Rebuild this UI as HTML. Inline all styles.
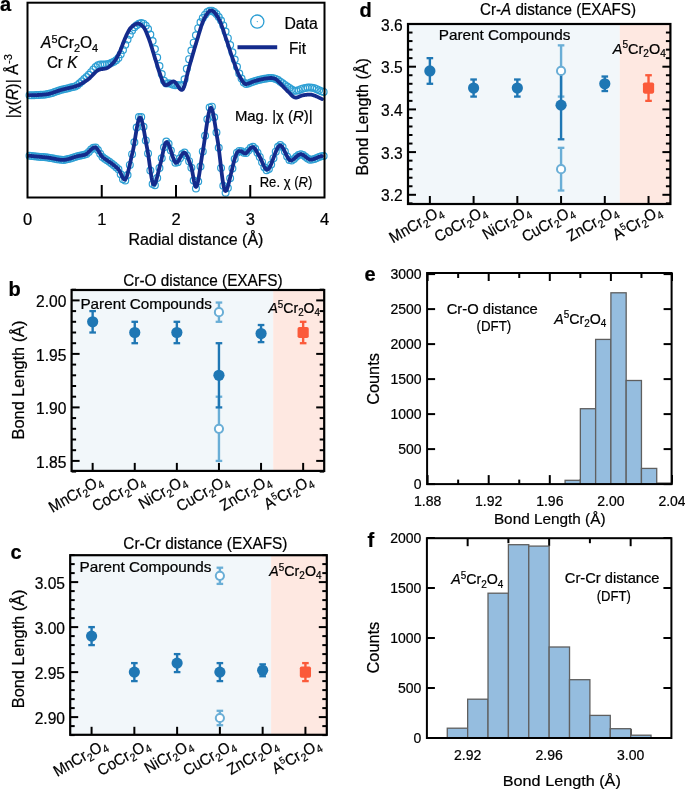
<!DOCTYPE html><html><head><meta charset="utf-8"><style>html,body{margin:0;padding:0;background:#fff;}svg{display:block;will-change:transform;}</style></head><body><svg width="685" height="790" viewBox="0 0 685 790" font-family='"Liberation Sans", sans-serif'><style>text{stroke:#000;stroke-width:0.22px;}</style>
<rect x="0" y="0" width="685" height="790" fill="#fff"/>
<g fill="none" stroke="#2d9fd4" stroke-width="1.2"><circle cx="29.50" cy="95.20" r="3.4"/><circle cx="29.50" cy="155.84" r="3.4"/><circle cx="31.78" cy="95.19" r="3.4"/><circle cx="31.78" cy="156.03" r="3.4"/><circle cx="34.06" cy="95.13" r="3.4"/><circle cx="34.06" cy="156.24" r="3.4"/><circle cx="36.34" cy="95.06" r="3.4"/><circle cx="36.34" cy="156.45" r="3.4"/><circle cx="38.62" cy="94.98" r="3.4"/><circle cx="38.62" cy="156.67" r="3.4"/><circle cx="40.90" cy="94.85" r="3.4"/><circle cx="40.90" cy="156.89" r="3.4"/><circle cx="43.18" cy="94.66" r="3.4"/><circle cx="43.18" cy="157.12" r="3.4"/><circle cx="45.46" cy="94.40" r="3.4"/><circle cx="45.46" cy="157.37" r="3.4"/><circle cx="47.74" cy="94.06" r="3.4"/><circle cx="47.74" cy="157.62" r="3.4"/><circle cx="50.02" cy="93.55" r="3.4"/><circle cx="50.02" cy="157.92" r="3.4"/><circle cx="52.30" cy="92.88" r="3.4"/><circle cx="52.30" cy="158.33" r="3.4"/><circle cx="54.58" cy="92.12" r="3.4"/><circle cx="54.58" cy="158.79" r="3.4"/><circle cx="56.86" cy="91.31" r="3.4"/><circle cx="56.86" cy="159.24" r="3.4"/><circle cx="59.14" cy="90.53" r="3.4"/><circle cx="59.14" cy="159.62" r="3.4"/><circle cx="61.42" cy="89.82" r="3.4"/><circle cx="61.42" cy="159.85" r="3.4"/><circle cx="63.70" cy="89.21" r="3.4"/><circle cx="63.70" cy="159.88" r="3.4"/><circle cx="65.98" cy="88.66" r="3.4"/><circle cx="65.98" cy="159.61" r="3.4"/><circle cx="68.26" cy="88.14" r="3.4"/><circle cx="68.26" cy="159.08" r="3.4"/><circle cx="70.54" cy="87.61" r="3.4"/><circle cx="70.54" cy="158.40" r="3.4"/><circle cx="72.82" cy="87.05" r="3.4"/><circle cx="72.82" cy="157.64" r="3.4"/><circle cx="75.10" cy="86.41" r="3.4"/><circle cx="75.10" cy="156.90" r="3.4"/><circle cx="77.38" cy="85.13" r="3.4"/><circle cx="77.38" cy="156.25" r="3.4"/><circle cx="79.66" cy="83.27" r="3.4"/><circle cx="79.66" cy="155.76" r="3.4"/><circle cx="81.94" cy="81.24" r="3.4"/><circle cx="81.94" cy="155.34" r="3.4"/><circle cx="84.22" cy="79.11" r="3.4"/><circle cx="84.22" cy="154.87" r="3.4"/><circle cx="86.50" cy="76.95" r="3.4"/><circle cx="86.50" cy="153.91" r="3.4"/><circle cx="88.78" cy="74.77" r="3.4"/><circle cx="88.78" cy="151.90" r="3.4"/><circle cx="91.06" cy="72.17" r="3.4"/><circle cx="91.06" cy="149.61" r="3.4"/><circle cx="93.34" cy="69.45" r="3.4"/><circle cx="93.34" cy="147.85" r="3.4"/><circle cx="95.62" cy="67.02" r="3.4"/><circle cx="95.62" cy="147.53" r="3.4"/><circle cx="97.90" cy="65.29" r="3.4"/><circle cx="97.90" cy="149.98" r="3.4"/><circle cx="100.18" cy="64.54" r="3.4"/><circle cx="100.18" cy="153.87" r="3.4"/><circle cx="102.46" cy="64.42" r="3.4"/><circle cx="102.46" cy="156.95" r="3.4"/><circle cx="104.74" cy="64.51" r="3.4"/><circle cx="104.74" cy="158.78" r="3.4"/><circle cx="107.02" cy="64.33" r="3.4"/><circle cx="107.02" cy="160.36" r="3.4"/><circle cx="109.30" cy="63.70" r="3.4"/><circle cx="109.30" cy="161.86" r="3.4"/><circle cx="111.58" cy="62.81" r="3.4"/><circle cx="111.58" cy="163.43" r="3.4"/><circle cx="113.86" cy="61.69" r="3.4"/><circle cx="113.86" cy="165.21" r="3.4"/><circle cx="116.14" cy="60.26" r="3.4"/><circle cx="116.14" cy="167.17" r="3.4"/><circle cx="118.42" cy="57.89" r="3.4"/><circle cx="118.42" cy="169.32" r="3.4"/><circle cx="120.70" cy="54.21" r="3.4"/><circle cx="120.70" cy="174.18" r="3.4"/><circle cx="122.98" cy="49.89" r="3.4"/><circle cx="122.98" cy="179.13" r="3.4"/><circle cx="125.26" cy="44.67" r="3.4"/><circle cx="125.26" cy="180.53" r="3.4"/><circle cx="127.54" cy="39.56" r="3.4"/><circle cx="127.54" cy="174.93" r="3.4"/><circle cx="129.82" cy="34.71" r="3.4"/><circle cx="129.82" cy="164.92" r="3.4"/><circle cx="132.10" cy="30.44" r="3.4"/><circle cx="132.10" cy="154.13" r="3.4"/><circle cx="134.38" cy="27.16" r="3.4"/><circle cx="134.38" cy="142.29" r="3.4"/><circle cx="136.66" cy="25.17" r="3.4"/><circle cx="136.66" cy="127.59" r="3.4"/><circle cx="138.94" cy="23.66" r="3.4"/><circle cx="138.94" cy="117.01" r="3.4"/><circle cx="141.22" cy="22.95" r="3.4"/><circle cx="141.22" cy="117.09" r="3.4"/><circle cx="143.50" cy="23.65" r="3.4"/><circle cx="143.50" cy="126.79" r="3.4"/><circle cx="145.78" cy="25.65" r="3.4"/><circle cx="145.78" cy="140.40" r="3.4"/><circle cx="148.06" cy="28.96" r="3.4"/><circle cx="148.06" cy="153.53" r="3.4"/><circle cx="150.34" cy="34.46" r="3.4"/><circle cx="150.34" cy="170.44" r="3.4"/><circle cx="152.62" cy="41.06" r="3.4"/><circle cx="152.62" cy="183.88" r="3.4"/><circle cx="154.90" cy="49.03" r="3.4"/><circle cx="154.90" cy="185.20" r="3.4"/><circle cx="157.18" cy="57.53" r="3.4"/><circle cx="157.18" cy="177.96" r="3.4"/><circle cx="159.46" cy="65.98" r="3.4"/><circle cx="159.46" cy="167.96" r="3.4"/><circle cx="161.74" cy="73.94" r="3.4"/><circle cx="161.74" cy="158.27" r="3.4"/><circle cx="164.02" cy="80.76" r="3.4"/><circle cx="164.02" cy="147.24" r="3.4"/><circle cx="166.30" cy="83.40" r="3.4"/><circle cx="166.30" cy="141.50" r="3.4"/><circle cx="168.58" cy="83.34" r="3.4"/><circle cx="168.58" cy="143.81" r="3.4"/><circle cx="170.86" cy="83.77" r="3.4"/><circle cx="170.86" cy="150.44" r="3.4"/><circle cx="173.14" cy="84.77" r="3.4"/><circle cx="173.14" cy="157.91" r="3.4"/><circle cx="175.42" cy="85.19" r="3.4"/><circle cx="175.42" cy="162.73" r="3.4"/><circle cx="177.70" cy="85.05" r="3.4"/><circle cx="177.70" cy="162.14" r="3.4"/><circle cx="179.98" cy="85.48" r="3.4"/><circle cx="179.98" cy="158.23" r="3.4"/><circle cx="182.26" cy="85.12" r="3.4"/><circle cx="182.26" cy="154.04" r="3.4"/><circle cx="184.54" cy="79.20" r="3.4"/><circle cx="184.54" cy="152.48" r="3.4"/><circle cx="186.82" cy="68.85" r="3.4"/><circle cx="186.82" cy="155.38" r="3.4"/><circle cx="189.10" cy="59.13" r="3.4"/><circle cx="189.10" cy="161.13" r="3.4"/><circle cx="191.38" cy="50.54" r="3.4"/><circle cx="191.38" cy="167.81" r="3.4"/><circle cx="193.66" cy="42.65" r="3.4"/><circle cx="193.66" cy="180.44" r="3.4"/><circle cx="195.94" cy="35.25" r="3.4"/><circle cx="195.94" cy="188.45" r="3.4"/><circle cx="198.22" cy="28.15" r="3.4"/><circle cx="198.22" cy="181.52" r="3.4"/><circle cx="200.50" cy="22.19" r="3.4"/><circle cx="200.50" cy="166.47" r="3.4"/><circle cx="202.78" cy="17.95" r="3.4"/><circle cx="202.78" cy="151.39" r="3.4"/><circle cx="205.06" cy="14.63" r="3.4"/><circle cx="205.06" cy="135.69" r="3.4"/><circle cx="207.34" cy="12.12" r="3.4"/><circle cx="207.34" cy="119.24" r="3.4"/><circle cx="209.62" cy="10.71" r="3.4"/><circle cx="209.62" cy="107.62" r="3.4"/><circle cx="211.90" cy="10.63" r="3.4"/><circle cx="211.90" cy="106.65" r="3.4"/><circle cx="214.18" cy="11.92" r="3.4"/><circle cx="214.18" cy="117.32" r="3.4"/><circle cx="216.46" cy="14.08" r="3.4"/><circle cx="216.46" cy="132.44" r="3.4"/><circle cx="218.74" cy="16.97" r="3.4"/><circle cx="218.74" cy="147.82" r="3.4"/><circle cx="221.02" cy="20.48" r="3.4"/><circle cx="221.02" cy="167.97" r="3.4"/><circle cx="223.30" cy="25.41" r="3.4"/><circle cx="223.30" cy="185.73" r="3.4"/><circle cx="225.58" cy="31.55" r="3.4"/><circle cx="225.58" cy="192.80" r="3.4"/><circle cx="227.86" cy="38.13" r="3.4"/><circle cx="227.86" cy="188.03" r="3.4"/><circle cx="230.14" cy="44.97" r="3.4"/><circle cx="230.14" cy="178.27" r="3.4"/><circle cx="232.42" cy="52.35" r="3.4"/><circle cx="232.42" cy="168.50" r="3.4"/><circle cx="234.70" cy="59.61" r="3.4"/><circle cx="234.70" cy="158.94" r="3.4"/><circle cx="236.98" cy="66.79" r="3.4"/><circle cx="236.98" cy="152.67" r="3.4"/><circle cx="239.26" cy="73.54" r="3.4"/><circle cx="239.26" cy="150.90" r="3.4"/><circle cx="241.54" cy="78.55" r="3.4"/><circle cx="241.54" cy="151.22" r="3.4"/><circle cx="243.82" cy="82.62" r="3.4"/><circle cx="243.82" cy="152.85" r="3.4"/><circle cx="246.10" cy="84.12" r="3.4"/><circle cx="246.10" cy="152.96" r="3.4"/><circle cx="248.38" cy="83.50" r="3.4"/><circle cx="248.38" cy="150.57" r="3.4"/><circle cx="250.66" cy="82.62" r="3.4"/><circle cx="250.66" cy="147.73" r="3.4"/><circle cx="252.94" cy="81.69" r="3.4"/><circle cx="252.94" cy="146.70" r="3.4"/><circle cx="255.22" cy="80.94" r="3.4"/><circle cx="255.22" cy="148.86" r="3.4"/><circle cx="257.50" cy="80.31" r="3.4"/><circle cx="257.50" cy="152.83" r="3.4"/><circle cx="259.78" cy="79.70" r="3.4"/><circle cx="259.78" cy="156.89" r="3.4"/><circle cx="262.06" cy="79.19" r="3.4"/><circle cx="262.06" cy="162.16" r="3.4"/><circle cx="264.34" cy="78.76" r="3.4"/><circle cx="264.34" cy="167.36" r="3.4"/><circle cx="266.62" cy="78.40" r="3.4"/><circle cx="266.62" cy="170.29" r="3.4"/><circle cx="268.90" cy="78.11" r="3.4"/><circle cx="268.90" cy="169.09" r="3.4"/><circle cx="271.18" cy="77.98" r="3.4"/><circle cx="271.18" cy="164.49" r="3.4"/><circle cx="273.46" cy="78.35" r="3.4"/><circle cx="273.46" cy="158.14" r="3.4"/><circle cx="275.74" cy="78.89" r="3.4"/><circle cx="275.74" cy="151.67" r="3.4"/><circle cx="278.02" cy="80.08" r="3.4"/><circle cx="278.02" cy="146.74" r="3.4"/><circle cx="280.30" cy="81.70" r="3.4"/><circle cx="280.30" cy="144.98" r="3.4"/><circle cx="282.58" cy="83.26" r="3.4"/><circle cx="282.58" cy="147.12" r="3.4"/><circle cx="284.86" cy="84.96" r="3.4"/><circle cx="284.86" cy="151.58" r="3.4"/><circle cx="287.14" cy="86.55" r="3.4"/><circle cx="287.14" cy="156.49" r="3.4"/><circle cx="289.42" cy="88.01" r="3.4"/><circle cx="289.42" cy="159.98" r="3.4"/><circle cx="291.70" cy="89.60" r="3.4"/><circle cx="291.70" cy="160.42" r="3.4"/><circle cx="293.98" cy="90.63" r="3.4"/><circle cx="293.98" cy="158.97" r="3.4"/><circle cx="296.26" cy="90.77" r="3.4"/><circle cx="296.26" cy="156.86" r="3.4"/><circle cx="298.54" cy="90.13" r="3.4"/><circle cx="298.54" cy="154.96" r="3.4"/><circle cx="300.82" cy="89.13" r="3.4"/><circle cx="300.82" cy="154.15" r="3.4"/><circle cx="303.10" cy="88.38" r="3.4"/><circle cx="303.10" cy="154.97" r="3.4"/><circle cx="305.38" cy="87.95" r="3.4"/><circle cx="305.38" cy="156.68" r="3.4"/><circle cx="307.66" cy="87.58" r="3.4"/><circle cx="307.66" cy="158.51" r="3.4"/><circle cx="309.94" cy="87.44" r="3.4"/><circle cx="309.94" cy="159.67" r="3.4"/><circle cx="312.22" cy="87.69" r="3.4"/><circle cx="312.22" cy="159.60" r="3.4"/><circle cx="314.50" cy="88.35" r="3.4"/><circle cx="314.50" cy="158.88" r="3.4"/><circle cx="316.78" cy="89.16" r="3.4"/><circle cx="316.78" cy="157.88" r="3.4"/><circle cx="319.06" cy="90.22" r="3.4"/><circle cx="319.06" cy="156.90" r="3.4"/><circle cx="321.34" cy="91.24" r="3.4"/><circle cx="321.34" cy="156.21" r="3.4"/><circle cx="323.62" cy="91.92" r="3.4"/><circle cx="323.62" cy="155.96" r="3.4"/></g>
<path d="M29.00,95.20 L29.50,95.20 L30.00,95.20 L30.50,95.20 L31.00,95.20 L31.50,95.19 L32.00,95.18 L32.50,95.17 L33.00,95.16 L33.50,95.15 L34.00,95.13 L34.50,95.12 L35.00,95.10 L35.50,95.09 L36.00,95.07 L36.50,95.05 L37.00,95.03 L37.50,95.02 L38.00,95.00 L38.50,94.98 L39.00,94.96 L39.50,94.94 L40.00,94.91 L40.50,94.88 L41.00,94.84 L41.50,94.81 L42.00,94.77 L42.50,94.72 L43.00,94.68 L43.50,94.63 L44.00,94.57 L44.50,94.52 L45.00,94.46 L45.50,94.39 L46.00,94.33 L46.50,94.26 L47.00,94.18 L47.50,94.10 L48.00,94.01 L48.50,93.91 L49.00,93.80 L49.50,93.68 L50.00,93.55 L50.50,93.42 L51.00,93.27 L51.50,93.13 L52.00,92.97 L52.50,92.82 L53.00,92.65 L53.50,92.49 L54.00,92.32 L54.50,92.14 L55.00,91.97 L55.50,91.79 L56.00,91.62 L56.50,91.44 L57.00,91.27 L57.50,91.09 L58.00,90.92 L58.50,90.75 L59.00,90.58 L59.50,90.41 L60.00,90.25 L60.50,90.10 L61.00,89.95 L61.50,89.80 L62.00,89.66 L62.50,89.52 L63.00,89.39 L63.50,89.26 L64.00,89.14 L64.50,89.02 L65.00,88.89 L65.50,88.78 L66.00,88.66 L66.50,88.54 L67.00,88.43 L67.50,88.32 L68.00,88.20 L68.50,88.09 L69.00,87.97 L69.50,87.86 L70.00,87.74 L70.50,87.62 L71.00,87.50 L71.50,87.38 L72.00,87.26 L72.50,87.13 L73.00,87.00 L73.50,86.87 L74.00,86.73 L74.50,86.59 L75.00,86.44 L75.50,86.29 L76.00,86.13 L76.50,85.97 L77.00,85.79 L77.50,85.60 L78.00,85.39 L78.50,85.17 L79.00,84.95 L79.50,84.71 L80.00,84.46 L80.50,84.19 L81.00,83.92 L81.50,83.65 L82.00,83.36 L82.50,83.06 L83.00,82.76 L83.50,82.45 L84.00,82.14 L84.50,81.82 L85.00,81.49 L85.50,81.16 L86.00,80.83 L86.50,80.49 L87.00,80.15 L87.50,79.81 L88.00,79.46 L88.50,79.08 L89.00,78.67 L89.50,78.22 L90.00,77.75 L90.50,77.26 L91.00,76.75 L91.50,76.23 L92.00,75.69 L92.50,75.16 L93.00,74.62 L93.50,74.09 L94.00,73.57 L94.50,73.06 L95.00,72.57 L95.50,72.10 L96.00,71.66 L96.50,71.24 L97.00,70.86 L97.50,70.52 L98.00,70.23 L98.50,69.98 L99.00,69.76 L99.50,69.59 L100.00,69.44 L100.50,69.32 L101.00,69.22 L101.50,69.14 L102.00,69.07 L102.50,69.01 L103.00,68.95 L103.50,68.89 L104.00,68.82 L104.50,68.74 L105.00,68.64 L105.50,68.52 L106.00,68.38 L106.50,68.20 L107.00,67.99 L107.50,67.75 L108.00,67.46 L108.50,67.14 L109.00,66.78 L109.50,66.39 L110.00,65.98 L110.50,65.54 L111.00,65.07 L111.50,64.59 L112.00,64.09 L112.50,63.57 L113.00,63.04 L113.50,62.50 L114.00,61.92 L114.50,61.28 L115.00,60.58 L115.50,59.82 L116.00,59.02 L116.50,58.17 L117.00,57.27 L117.50,56.35 L118.00,55.39 L118.50,54.41 L119.00,53.41 L119.50,52.37 L120.00,51.25 L120.50,50.05 L121.00,48.79 L121.50,47.49 L122.00,46.17 L122.50,44.84 L123.00,43.52 L123.50,42.23 L124.00,40.98 L124.50,39.78 L125.00,38.57 L125.50,37.37 L126.00,36.19 L126.50,35.06 L127.00,33.99 L127.50,33.00 L128.00,32.06 L128.50,31.13 L129.00,30.24 L129.50,29.41 L130.00,28.67 L130.50,28.02 L131.00,27.50 L131.50,27.06 L132.00,26.62 L132.50,26.20 L133.00,25.80 L133.50,25.42 L134.00,25.07 L134.50,24.74 L135.00,24.44 L135.50,24.18 L136.00,23.95 L136.50,23.76 L137.00,23.62 L137.50,23.52 L138.00,23.49 L138.50,23.53 L139.00,23.65 L139.50,23.85 L140.00,24.10 L140.50,24.42 L141.00,24.77 L141.50,25.17 L142.00,25.59 L142.50,26.04 L143.00,26.50 L143.50,27.04 L144.00,27.72 L144.50,28.53 L145.00,29.46 L145.50,30.48 L146.00,31.58 L146.50,32.76 L147.00,33.98 L147.50,35.24 L148.00,36.52 L148.50,37.80 L149.00,39.12 L149.50,40.52 L150.00,41.98 L150.50,43.50 L151.00,45.06 L151.50,46.67 L152.00,48.30 L152.50,49.96 L153.00,51.62 L153.50,53.29 L154.00,54.95 L154.50,56.60 L155.00,58.22 L155.50,59.82 L156.00,61.43 L156.50,63.07 L157.00,64.73 L157.50,66.37 L158.00,67.99 L158.50,69.57 L159.00,71.08 L159.50,72.50 L160.00,73.91 L160.50,75.36 L161.00,76.83 L161.50,78.28 L162.00,79.67 L162.50,80.97 L163.00,82.15 L163.50,83.18 L164.00,84.02 L164.50,84.64 L165.00,85.00 L165.50,85.16 L166.00,85.21 L166.50,85.16 L167.00,85.02 L167.50,84.81 L168.00,84.54 L168.50,84.22 L169.00,83.87 L169.50,83.50 L170.00,83.12 L170.50,82.76 L171.00,82.41 L171.50,82.10 L172.00,81.83 L172.50,81.63 L173.00,81.51 L173.50,81.47 L174.00,81.55 L174.50,81.78 L175.00,82.16 L175.50,82.66 L176.00,83.27 L176.50,83.96 L177.00,84.70 L177.50,85.47 L178.00,86.25 L178.50,87.01 L179.00,87.73 L179.50,88.39 L180.00,88.96 L180.50,89.41 L181.00,89.73 L181.50,89.89 L182.00,89.87 L182.50,89.61 L183.00,88.99 L183.50,88.05 L184.00,86.82 L184.50,85.35 L185.00,83.66 L185.50,81.81 L186.00,79.83 L186.50,77.76 L187.00,75.64 L187.50,73.51 L188.00,71.41 L188.50,69.39 L189.00,67.47 L189.50,65.70 L190.00,64.01 L190.50,62.31 L191.00,60.59 L191.50,58.87 L192.00,57.14 L192.50,55.41 L193.00,53.68 L193.50,51.96 L194.00,50.24 L194.50,48.53 L195.00,46.84 L195.50,45.16 L196.00,43.50 L196.50,41.87 L197.00,40.25 L197.50,38.61 L198.00,36.95 L198.50,35.26 L199.00,33.58 L199.50,31.90 L200.00,30.24 L200.50,28.62 L201.00,27.04 L201.50,25.52 L202.00,24.06 L202.50,22.69 L203.00,21.42 L203.50,20.25 L204.00,19.20 L204.50,18.24 L205.00,17.30 L205.50,16.39 L206.00,15.52 L206.50,14.69 L207.00,13.92 L207.50,13.20 L208.00,12.55 L208.50,11.98 L209.00,11.48 L209.50,11.08 L210.00,10.78 L210.50,10.58 L211.00,10.50 L211.50,10.53 L212.00,10.65 L212.50,10.86 L213.00,11.15 L213.50,11.52 L214.00,11.97 L214.50,12.48 L215.00,13.05 L215.50,13.68 L216.00,14.36 L216.50,15.10 L217.00,15.87 L217.50,16.68 L218.00,17.53 L218.50,18.40 L219.00,19.30 L219.50,20.27 L220.00,21.34 L220.50,22.52 L221.00,23.78 L221.50,25.12 L222.00,26.52 L222.50,27.96 L223.00,29.45 L223.50,30.96 L224.00,32.49 L224.50,34.02 L225.00,35.54 L225.50,37.04 L226.00,38.50 L226.50,39.96 L227.00,41.45 L227.50,42.97 L228.00,44.50 L228.50,46.05 L229.00,47.60 L229.50,49.16 L230.00,50.71 L230.50,52.25 L231.00,53.78 L231.50,55.28 L232.00,56.76 L232.50,58.20 L233.00,59.60 L233.50,60.99 L234.00,62.40 L234.50,63.81 L235.00,65.22 L235.50,66.62 L236.00,67.99 L236.50,69.34 L237.00,70.64 L237.50,71.90 L238.00,73.10 L238.50,74.22 L239.00,75.27 L239.50,76.23 L240.00,77.10 L240.50,77.92 L241.00,78.76 L241.50,79.59 L242.00,80.39 L242.50,81.16 L243.00,81.87 L243.50,82.51 L244.00,83.07 L244.50,83.53 L245.00,83.87 L245.50,84.07 L246.00,84.12 L246.50,84.04 L247.00,83.92 L247.50,83.78 L248.00,83.63 L248.50,83.46 L249.00,83.28 L249.50,83.09 L250.00,82.89 L250.50,82.68 L251.00,82.48 L251.50,82.27 L252.00,82.06 L252.50,81.86 L253.00,81.67 L253.50,81.48 L254.00,81.30 L254.50,81.14 L255.00,81.00 L255.50,80.86 L256.00,80.73 L256.50,80.59 L257.00,80.45 L257.50,80.31 L258.00,80.17 L258.50,80.04 L259.00,79.90 L259.50,79.77 L260.00,79.65 L260.50,79.53 L261.00,79.41 L261.50,79.30 L262.00,79.20 L262.50,79.10 L263.00,79.01 L263.50,78.91 L264.00,78.82 L264.50,78.74 L265.00,78.65 L265.50,78.57 L266.00,78.49 L266.50,78.42 L267.00,78.34 L267.50,78.28 L268.00,78.21 L268.50,78.15 L269.00,78.10 L269.50,78.05 L270.00,78.00 L270.50,77.97 L271.00,77.98 L271.50,78.01 L272.00,78.06 L272.50,78.14 L273.00,78.25 L273.50,78.36 L274.00,78.50 L274.50,78.64 L275.00,78.80 L275.50,79.01 L276.00,79.30 L276.50,79.67 L277.00,80.10 L277.50,80.57 L278.00,81.08 L278.50,81.61 L279.00,82.15 L279.50,82.69 L280.00,83.20 L280.50,83.69 L281.00,84.19 L281.50,84.70 L282.00,85.22 L282.50,85.76 L283.00,86.29 L283.50,86.84 L284.00,87.38 L284.50,87.92 L285.00,88.46 L285.50,89.00 L286.00,89.52 L286.50,90.04 L287.00,90.54 L287.50,91.03 L288.00,91.50 L288.50,91.98 L289.00,92.48 L289.50,93.00 L290.00,93.53 L290.50,94.05 L291.00,94.58 L291.50,95.08 L292.00,95.56 L292.50,96.01 L293.00,96.43 L293.50,96.79 L294.00,97.09 L294.50,97.33 L295.00,97.50 L295.50,97.59 L296.00,97.59 L296.50,97.54 L297.00,97.44 L297.50,97.30 L298.00,97.14 L298.50,96.95 L299.00,96.74 L299.50,96.53 L300.00,96.31 L300.50,96.09 L301.00,95.89 L301.50,95.70 L302.00,95.53 L302.50,95.40 L303.00,95.30 L303.50,95.22 L304.00,95.14 L304.50,95.06 L305.00,94.98 L305.50,94.91 L306.00,94.83 L306.50,94.77 L307.00,94.71 L307.50,94.65 L308.00,94.61 L308.50,94.58 L309.00,94.56 L309.50,94.56 L310.00,94.57 L310.50,94.60 L311.00,94.65 L311.50,94.73 L312.00,94.84 L312.50,94.97 L313.00,95.12 L313.50,95.28 L314.00,95.45 L314.50,95.64 L315.00,95.82 L315.50,96.01 L316.00,96.20 L316.50,96.40 L317.00,96.62 L317.50,96.86 L318.00,97.11 L318.50,97.37 L319.00,97.63 L319.50,97.89 L320.00,98.14 L320.50,98.38 L321.00,98.61 L321.50,98.82 L322.00,99.00" fill="none" stroke="#142b8c" stroke-width="3.8" stroke-linejoin="round" stroke-linecap="round"/>
<path d="M29.00,155.80 L29.50,155.84 L30.00,155.88 L30.50,155.92 L31.00,155.97 L31.50,156.01 L32.00,156.05 L32.50,156.10 L33.00,156.14 L33.50,156.19 L34.00,156.23 L34.50,156.28 L35.00,156.32 L35.50,156.37 L36.00,156.42 L36.50,156.47 L37.00,156.51 L37.50,156.56 L38.00,156.61 L38.50,156.66 L39.00,156.70 L39.50,156.75 L40.00,156.80 L40.50,156.85 L41.00,156.90 L41.50,156.95 L42.00,157.00 L42.50,157.05 L43.00,157.10 L43.50,157.16 L44.00,157.21 L44.50,157.26 L45.00,157.32 L45.50,157.37 L46.00,157.43 L46.50,157.48 L47.00,157.54 L47.50,157.60 L48.00,157.65 L48.50,157.71 L49.00,157.77 L49.50,157.84 L50.00,157.92 L50.50,158.00 L51.00,158.09 L51.50,158.18 L52.00,158.28 L52.50,158.37 L53.00,158.47 L53.50,158.57 L54.00,158.68 L54.50,158.78 L55.00,158.88 L55.50,158.98 L56.00,159.08 L56.50,159.17 L57.00,159.27 L57.50,159.36 L58.00,159.44 L58.50,159.52 L59.00,159.60 L59.50,159.66 L60.00,159.72 L60.50,159.78 L61.00,159.82 L61.50,159.86 L62.00,159.88 L62.50,159.90 L63.00,159.90 L63.50,159.89 L64.00,159.86 L64.50,159.82 L65.00,159.76 L65.50,159.69 L66.00,159.60 L66.50,159.51 L67.00,159.40 L67.50,159.28 L68.00,159.15 L68.50,159.02 L69.00,158.88 L69.50,158.73 L70.00,158.57 L70.50,158.41 L71.00,158.25 L71.50,158.08 L72.00,157.92 L72.50,157.75 L73.00,157.58 L73.50,157.41 L74.00,157.25 L74.50,157.09 L75.00,156.93 L75.50,156.77 L76.00,156.62 L76.50,156.48 L77.00,156.35 L77.50,156.22 L78.00,156.11 L78.50,156.00 L79.00,155.89 L79.50,155.80 L80.00,155.70 L80.50,155.61 L81.00,155.52 L81.50,155.42 L82.00,155.33 L82.50,155.24 L83.00,155.14 L83.50,155.03 L84.00,154.92 L84.50,154.80 L85.00,154.67 L85.50,154.49 L86.00,154.23 L86.50,153.91 L87.00,153.54 L87.50,153.12 L88.00,152.66 L88.50,152.18 L89.00,151.68 L89.50,151.17 L90.00,150.66 L90.50,150.15 L91.00,149.66 L91.50,149.20 L92.00,148.77 L92.50,148.38 L93.00,148.05 L93.50,147.77 L94.00,147.57 L94.50,147.44 L95.00,147.40 L95.50,147.48 L96.00,147.74 L96.50,148.17 L97.00,148.72 L97.50,149.39 L98.00,150.14 L98.50,150.96 L99.00,151.82 L99.50,152.69 L100.00,153.56 L100.50,154.40 L101.00,155.18 L101.50,155.89 L102.00,156.50 L102.50,156.99 L103.00,157.42 L103.50,157.83 L104.00,158.23 L104.50,158.61 L105.00,158.97 L105.50,159.33 L106.00,159.68 L106.50,160.02 L107.00,160.35 L107.50,160.68 L108.00,161.01 L108.50,161.33 L109.00,161.66 L109.50,161.99 L110.00,162.32 L110.50,162.66 L111.00,163.01 L111.50,163.37 L112.00,163.74 L112.50,164.12 L113.00,164.52 L113.50,164.92 L114.00,165.33 L114.50,165.74 L115.00,166.17 L115.50,166.60 L116.00,167.04 L116.50,167.49 L117.00,167.95 L117.50,168.42 L118.00,168.91 L118.50,169.40 L119.00,170.05 L119.50,170.87 L120.00,171.83 L120.50,172.88 L121.00,173.98 L121.50,175.09 L122.00,176.17 L122.50,177.17 L123.00,178.06 L123.50,178.79 L124.00,179.32 L124.50,179.60 L125.00,179.54 L125.50,179.10 L126.00,178.30 L126.50,177.19 L127.00,175.80 L127.50,174.17 L128.00,172.33 L128.50,170.33 L129.00,168.19 L129.50,165.96 L130.00,163.67 L130.50,161.35 L131.00,159.05 L131.50,156.80 L132.00,154.64 L132.50,152.60 L133.00,150.44 L133.50,147.94 L134.00,145.18 L134.50,142.22 L135.00,139.13 L135.50,136.00 L136.00,132.89 L136.50,129.87 L137.00,127.02 L137.50,124.41 L138.00,122.11 L138.50,120.19 L139.00,118.72 L139.50,117.78 L140.00,117.44 L140.50,117.68 L141.00,118.45 L141.50,119.69 L142.00,121.34 L142.50,123.34 L143.00,125.64 L143.50,128.18 L144.00,130.89 L144.50,133.73 L145.00,136.63 L145.50,139.54 L146.00,142.39 L146.50,145.14 L147.00,147.71 L147.50,150.29 L148.00,153.27 L148.50,156.57 L149.00,160.07 L149.50,163.69 L150.00,167.33 L150.50,170.87 L151.00,174.22 L151.50,177.28 L152.00,179.94 L152.50,182.11 L153.00,183.69 L153.50,184.57 L154.00,184.72 L154.50,184.38 L155.00,183.63 L155.50,182.53 L156.00,181.13 L156.50,179.47 L157.00,177.62 L157.50,175.62 L158.00,173.53 L158.50,171.40 L159.00,169.28 L159.50,167.23 L160.00,165.29 L160.50,163.47 L161.00,161.48 L161.50,159.27 L162.00,156.93 L162.50,154.54 L163.00,152.16 L163.50,149.87 L164.00,147.74 L164.50,145.86 L165.00,144.29 L165.50,143.10 L166.00,142.38 L166.50,142.13 L167.00,142.23 L167.50,142.63 L168.00,143.31 L168.50,144.22 L169.00,145.34 L169.50,146.63 L170.00,148.05 L170.50,149.57 L171.00,151.15 L171.50,152.76 L172.00,154.37 L172.50,155.93 L173.00,157.42 L173.50,158.79 L174.00,160.02 L174.50,161.07 L175.00,161.90 L175.50,162.48 L176.00,162.78 L176.50,162.76 L177.00,162.51 L177.50,162.07 L178.00,161.47 L178.50,160.74 L179.00,159.92 L179.50,159.02 L180.00,158.09 L180.50,157.14 L181.00,156.21 L181.50,155.32 L182.00,154.51 L182.50,153.81 L183.00,153.24 L183.50,152.84 L184.00,152.62 L184.50,152.63 L185.00,152.88 L185.50,153.33 L186.00,153.98 L186.50,154.80 L187.00,155.77 L187.50,156.85 L188.00,158.04 L188.50,159.30 L189.00,160.62 L189.50,161.97 L190.00,163.32 L190.50,164.66 L191.00,165.97 L191.50,167.73 L192.00,170.02 L192.50,172.67 L193.00,175.52 L193.50,178.38 L194.00,181.09 L194.50,183.47 L195.00,185.34 L195.50,186.55 L196.00,186.90 L196.50,186.42 L197.00,185.29 L197.50,183.59 L198.00,181.40 L198.50,178.80 L199.00,175.88 L199.50,172.71 L200.00,169.38 L200.50,165.97 L201.00,162.56 L201.50,159.24 L202.00,156.07 L202.50,153.15 L203.00,150.34 L203.50,147.28 L204.00,144.02 L204.50,140.60 L205.00,137.08 L205.50,133.52 L206.00,129.98 L206.50,126.51 L207.00,123.17 L207.50,120.01 L208.00,117.08 L208.50,114.45 L209.00,112.18 L209.50,110.30 L210.00,108.89 L210.50,108.00 L211.00,107.76 L211.50,108.20 L212.00,109.26 L212.50,110.86 L213.00,112.91 L213.50,115.36 L214.00,118.11 L214.50,121.09 L215.00,124.23 L215.50,127.44 L216.00,130.66 L216.50,133.81 L217.00,136.81 L217.50,139.64 L218.00,142.81 L218.50,146.38 L219.00,150.26 L219.50,154.37 L220.00,158.62 L220.50,162.94 L221.00,167.23 L221.50,171.42 L222.00,175.41 L222.50,179.14 L223.00,182.50 L223.50,185.42 L224.00,187.82 L224.50,189.61 L225.00,190.71 L225.50,191.05 L226.00,190.84 L226.50,190.16 L227.00,189.09 L227.50,187.69 L228.00,186.02 L228.50,184.13 L229.00,182.09 L229.50,179.96 L230.00,177.81 L230.50,175.68 L231.00,173.65 L231.50,171.74 L232.00,169.70 L232.50,167.55 L233.00,165.37 L233.50,163.23 L234.00,161.23 L234.50,159.44 L235.00,157.91 L235.50,156.46 L236.00,155.08 L236.50,153.83 L237.00,152.79 L237.50,152.02 L238.00,151.60 L238.50,151.39 L239.00,151.22 L239.50,151.10 L240.00,151.05 L240.50,151.08 L241.00,151.20 L241.50,151.43 L242.00,151.73 L242.50,152.08 L243.00,152.45 L243.50,152.80 L244.00,153.10 L244.50,153.32 L245.00,153.42 L245.50,153.37 L246.00,153.16 L246.50,152.83 L247.00,152.39 L247.50,151.87 L248.00,151.29 L248.50,150.68 L249.00,150.04 L249.50,149.42 L250.00,148.83 L250.50,148.29 L251.00,147.82 L251.50,147.45 L252.00,147.20 L252.50,147.10 L253.00,147.16 L253.50,147.39 L254.00,147.76 L254.50,148.27 L255.00,148.90 L255.50,149.61 L256.00,150.39 L256.50,151.23 L257.00,152.10 L257.50,152.98 L258.00,153.85 L258.50,154.70 L259.00,155.50 L259.50,156.33 L260.00,157.28 L260.50,158.31 L261.00,159.41 L261.50,160.56 L262.00,161.72 L262.50,162.89 L263.00,164.03 L263.50,165.13 L264.00,166.17 L264.50,167.11 L265.00,167.94 L265.50,168.64 L266.00,169.19 L266.50,169.55 L267.00,169.71 L267.50,169.65 L268.00,169.39 L268.50,168.94 L269.00,168.33 L269.50,167.56 L270.00,166.66 L270.50,165.64 L271.00,164.51 L271.50,163.30 L272.00,162.02 L272.50,160.69 L273.00,159.32 L273.50,157.92 L274.00,156.53 L274.50,155.15 L275.00,153.79 L275.50,152.48 L276.00,151.24 L276.50,150.07 L277.00,149.00 L277.50,148.04 L278.00,147.21 L278.50,146.52 L279.00,145.99 L279.50,145.65 L280.00,145.49 L280.50,145.55 L281.00,145.79 L281.50,146.19 L282.00,146.75 L282.50,147.43 L283.00,148.22 L283.50,149.10 L284.00,150.05 L284.50,151.05 L285.00,152.09 L285.50,153.14 L286.00,154.19 L286.50,155.22 L287.00,156.20 L287.50,157.13 L288.00,157.98 L288.50,158.73 L289.00,159.36 L289.50,159.86 L290.00,160.21 L290.50,160.39 L291.00,160.38 L291.50,160.27 L292.00,160.09 L292.50,159.85 L293.00,159.54 L293.50,159.20 L294.00,158.81 L294.50,158.39 L295.00,157.95 L295.50,157.50 L296.00,157.05 L296.50,156.60 L297.00,156.17 L297.50,155.76 L298.00,155.38 L298.50,155.04 L299.00,154.74 L299.50,154.51 L300.00,154.34 L300.50,154.25 L301.00,154.24 L301.50,154.32 L302.00,154.48 L302.50,154.69 L303.00,154.96 L303.50,155.26 L304.00,155.60 L304.50,155.97 L305.00,156.35 L305.50,156.74 L306.00,157.14 L306.50,157.53 L307.00,157.92 L307.50,158.28 L308.00,158.61 L308.50,158.91 L309.00,159.16 L309.50,159.37 L310.00,159.51 L310.50,159.59 L311.00,159.60 L311.50,159.55 L312.00,159.47 L312.50,159.37 L313.00,159.24 L313.50,159.09 L314.00,158.92 L314.50,158.74 L315.00,158.54 L315.50,158.34 L316.00,158.13 L316.50,157.91 L317.00,157.70 L317.50,157.48 L318.00,157.27 L318.50,157.07 L319.00,156.88 L319.50,156.70 L320.00,156.53 L320.50,156.39 L321.00,156.27 L321.50,156.17 L322.00,156.10" fill="none" stroke="#142b8c" stroke-width="3.8" stroke-linejoin="round" stroke-linecap="round"/>
<rect x="27.5" y="2.7" width="297.0" height="194.8" fill="none" stroke="#000" stroke-width="2"/>
<text x="27.50" y="225.00" font-size="16.5" text-anchor="middle">0</text>
<line x1="101.75" y1="197.50" x2="101.75" y2="185.00" stroke="#000" stroke-width="2" stroke-linecap="butt"/>
<text x="101.75" y="225.00" font-size="16.5" text-anchor="middle">1</text>
<line x1="176.00" y1="197.50" x2="176.00" y2="185.00" stroke="#000" stroke-width="2" stroke-linecap="butt"/>
<text x="176.00" y="225.00" font-size="16.5" text-anchor="middle">2</text>
<line x1="250.25" y1="197.50" x2="250.25" y2="185.00" stroke="#000" stroke-width="2" stroke-linecap="butt"/>
<text x="250.25" y="225.00" font-size="16.5" text-anchor="middle">3</text>
<text x="324.50" y="225.00" font-size="16.5" text-anchor="middle">4</text>
<text x="128.40" y="244.60" font-size="16" textLength="135.00" lengthAdjust="spacingAndGlyphs">Radial distance (Å)</text>
<text x="0.00" y="11.20" font-size="20" font-weight="bold">a</text>
<text transform="translate(17.8,86.2) rotate(-90)" font-size="16" text-anchor="middle" textLength="64" lengthAdjust="spacingAndGlyphs">|χ(<tspan font-style="italic">R</tspan>)| Å<tspan font-size="11" dy="-6">-3</tspan></text>
<text x="41.10" y="48.40" font-size="16" textLength="57.00" lengthAdjust="spacingAndGlyphs"><tspan font-style="italic">A</tspan><tspan font-size="11.20" dy="-5.76">5</tspan><tspan dy="5.76">Cr</tspan><tspan font-size="11.20" dy="3.52">2</tspan><tspan dy="-3.52">O</tspan><tspan font-size="11.20" dy="3.52">4</tspan></text>
<text x="46.90" y="67.60" font-size="16" textLength="30.40" lengthAdjust="spacingAndGlyphs">Cr <tspan font-style="italic">K</tspan></text>
<circle cx="257.3" cy="21.6" r="6.6" fill="none" stroke="#2d9fd4" stroke-width="1.3"/><circle cx="257.3" cy="21.6" r="0.6" fill="#2d9fd4"/>
<text x="284.40" y="28.90" font-size="16" textLength="33.30" lengthAdjust="spacingAndGlyphs">Data</text>
<line x1="237.50" y1="47.30" x2="277.20" y2="47.30" stroke="#142b8c" stroke-width="4" stroke-linecap="butt"/>
<text x="289.00" y="54.00" font-size="16" textLength="17.00" lengthAdjust="spacingAndGlyphs">Fit</text>
<text x="234.90" y="121.20" font-size="14.5" textLength="77.70" lengthAdjust="spacingAndGlyphs">Mag. |χ (<tspan font-style="italic">R</tspan>)|</text>
<text x="259.70" y="186.90" font-size="14.5" textLength="52.60" lengthAdjust="spacingAndGlyphs">Re. χ (<tspan font-style="italic">R</tspan>)</text>
<rect x="408.00" y="24.00" width="211.80" height="180.00" fill="#f2f7fa" stroke="none" stroke-width="0" rx="0"/>
<rect x="619.80" y="24.00" width="50.60" height="180.00" fill="#fee8e1" stroke="none" stroke-width="0" rx="0"/>
<line x1="408.00" y1="194.80" x2="416.00" y2="194.80" stroke="#000" stroke-width="2" stroke-linecap="butt"/>
<line x1="670.40" y1="194.80" x2="662.40" y2="194.80" stroke="#000" stroke-width="2" stroke-linecap="butt"/>
<text x="402.80" y="201.40" font-size="15.6" text-anchor="end">3.2</text>
<line x1="408.00" y1="152.10" x2="416.00" y2="152.10" stroke="#000" stroke-width="2" stroke-linecap="butt"/>
<line x1="670.40" y1="152.10" x2="662.40" y2="152.10" stroke="#000" stroke-width="2" stroke-linecap="butt"/>
<text x="402.80" y="158.70" font-size="15.6" text-anchor="end">3.3</text>
<line x1="408.00" y1="109.40" x2="416.00" y2="109.40" stroke="#000" stroke-width="2" stroke-linecap="butt"/>
<line x1="670.40" y1="109.40" x2="662.40" y2="109.40" stroke="#000" stroke-width="2" stroke-linecap="butt"/>
<text x="402.80" y="116.00" font-size="15.6" text-anchor="end">3.4</text>
<line x1="408.00" y1="66.70" x2="416.00" y2="66.70" stroke="#000" stroke-width="2" stroke-linecap="butt"/>
<line x1="670.40" y1="66.70" x2="662.40" y2="66.70" stroke="#000" stroke-width="2" stroke-linecap="butt"/>
<text x="402.80" y="73.30" font-size="15.6" text-anchor="end">3.5</text>
<line x1="408.00" y1="24.00" x2="416.00" y2="24.00" stroke="#000" stroke-width="2" stroke-linecap="butt"/>
<line x1="670.40" y1="24.00" x2="662.40" y2="24.00" stroke="#000" stroke-width="2" stroke-linecap="butt"/>
<text x="402.80" y="30.60" font-size="15.6" text-anchor="end">3.6</text>
<line x1="408.00" y1="203.34" x2="412.50" y2="203.34" stroke="#000" stroke-width="2" stroke-linecap="butt"/>
<line x1="670.40" y1="203.34" x2="665.90" y2="203.34" stroke="#000" stroke-width="2" stroke-linecap="butt"/>
<line x1="408.00" y1="186.26" x2="412.50" y2="186.26" stroke="#000" stroke-width="2" stroke-linecap="butt"/>
<line x1="670.40" y1="186.26" x2="665.90" y2="186.26" stroke="#000" stroke-width="2" stroke-linecap="butt"/>
<line x1="408.00" y1="177.72" x2="412.50" y2="177.72" stroke="#000" stroke-width="2" stroke-linecap="butt"/>
<line x1="670.40" y1="177.72" x2="665.90" y2="177.72" stroke="#000" stroke-width="2" stroke-linecap="butt"/>
<line x1="408.00" y1="169.18" x2="412.50" y2="169.18" stroke="#000" stroke-width="2" stroke-linecap="butt"/>
<line x1="670.40" y1="169.18" x2="665.90" y2="169.18" stroke="#000" stroke-width="2" stroke-linecap="butt"/>
<line x1="408.00" y1="160.64" x2="412.50" y2="160.64" stroke="#000" stroke-width="2" stroke-linecap="butt"/>
<line x1="670.40" y1="160.64" x2="665.90" y2="160.64" stroke="#000" stroke-width="2" stroke-linecap="butt"/>
<line x1="408.00" y1="143.56" x2="412.50" y2="143.56" stroke="#000" stroke-width="2" stroke-linecap="butt"/>
<line x1="670.40" y1="143.56" x2="665.90" y2="143.56" stroke="#000" stroke-width="2" stroke-linecap="butt"/>
<line x1="408.00" y1="135.02" x2="412.50" y2="135.02" stroke="#000" stroke-width="2" stroke-linecap="butt"/>
<line x1="670.40" y1="135.02" x2="665.90" y2="135.02" stroke="#000" stroke-width="2" stroke-linecap="butt"/>
<line x1="408.00" y1="126.48" x2="412.50" y2="126.48" stroke="#000" stroke-width="2" stroke-linecap="butt"/>
<line x1="670.40" y1="126.48" x2="665.90" y2="126.48" stroke="#000" stroke-width="2" stroke-linecap="butt"/>
<line x1="408.00" y1="117.94" x2="412.50" y2="117.94" stroke="#000" stroke-width="2" stroke-linecap="butt"/>
<line x1="670.40" y1="117.94" x2="665.90" y2="117.94" stroke="#000" stroke-width="2" stroke-linecap="butt"/>
<line x1="408.00" y1="100.86" x2="412.50" y2="100.86" stroke="#000" stroke-width="2" stroke-linecap="butt"/>
<line x1="670.40" y1="100.86" x2="665.90" y2="100.86" stroke="#000" stroke-width="2" stroke-linecap="butt"/>
<line x1="408.00" y1="92.32" x2="412.50" y2="92.32" stroke="#000" stroke-width="2" stroke-linecap="butt"/>
<line x1="670.40" y1="92.32" x2="665.90" y2="92.32" stroke="#000" stroke-width="2" stroke-linecap="butt"/>
<line x1="408.00" y1="83.78" x2="412.50" y2="83.78" stroke="#000" stroke-width="2" stroke-linecap="butt"/>
<line x1="670.40" y1="83.78" x2="665.90" y2="83.78" stroke="#000" stroke-width="2" stroke-linecap="butt"/>
<line x1="408.00" y1="75.24" x2="412.50" y2="75.24" stroke="#000" stroke-width="2" stroke-linecap="butt"/>
<line x1="670.40" y1="75.24" x2="665.90" y2="75.24" stroke="#000" stroke-width="2" stroke-linecap="butt"/>
<line x1="408.00" y1="58.16" x2="412.50" y2="58.16" stroke="#000" stroke-width="2" stroke-linecap="butt"/>
<line x1="670.40" y1="58.16" x2="665.90" y2="58.16" stroke="#000" stroke-width="2" stroke-linecap="butt"/>
<line x1="408.00" y1="49.62" x2="412.50" y2="49.62" stroke="#000" stroke-width="2" stroke-linecap="butt"/>
<line x1="670.40" y1="49.62" x2="665.90" y2="49.62" stroke="#000" stroke-width="2" stroke-linecap="butt"/>
<line x1="408.00" y1="41.08" x2="412.50" y2="41.08" stroke="#000" stroke-width="2" stroke-linecap="butt"/>
<line x1="670.40" y1="41.08" x2="665.90" y2="41.08" stroke="#000" stroke-width="2" stroke-linecap="butt"/>
<line x1="408.00" y1="32.54" x2="412.50" y2="32.54" stroke="#000" stroke-width="2" stroke-linecap="butt"/>
<line x1="670.40" y1="32.54" x2="665.90" y2="32.54" stroke="#000" stroke-width="2" stroke-linecap="butt"/>
<line x1="429.87" y1="204.00" x2="429.87" y2="196.00" stroke="#000" stroke-width="2" stroke-linecap="butt"/>
<line x1="473.60" y1="204.00" x2="473.60" y2="196.00" stroke="#000" stroke-width="2" stroke-linecap="butt"/>
<line x1="517.33" y1="204.00" x2="517.33" y2="196.00" stroke="#000" stroke-width="2" stroke-linecap="butt"/>
<line x1="561.07" y1="204.00" x2="561.07" y2="196.00" stroke="#000" stroke-width="2" stroke-linecap="butt"/>
<line x1="604.80" y1="204.00" x2="604.80" y2="196.00" stroke="#000" stroke-width="2" stroke-linecap="butt"/>
<line x1="648.53" y1="204.00" x2="648.53" y2="196.00" stroke="#000" stroke-width="2" stroke-linecap="butt"/>
<line x1="561.07" y1="45.35" x2="561.07" y2="96.59" stroke="#6aaed6" stroke-width="2.4" stroke-linecap="butt"/>
<line x1="557.77" y1="45.35" x2="564.37" y2="45.35" stroke="#6aaed6" stroke-width="2.3" stroke-linecap="butt"/>
<line x1="557.77" y1="96.59" x2="564.37" y2="96.59" stroke="#6aaed6" stroke-width="2.3" stroke-linecap="butt"/>
<line x1="561.07" y1="147.83" x2="561.07" y2="190.53" stroke="#6aaed6" stroke-width="2.4" stroke-linecap="butt"/>
<line x1="557.77" y1="147.83" x2="564.37" y2="147.83" stroke="#6aaed6" stroke-width="2.3" stroke-linecap="butt"/>
<line x1="557.77" y1="190.53" x2="564.37" y2="190.53" stroke="#6aaed6" stroke-width="2.3" stroke-linecap="butt"/>
<line x1="429.87" y1="58.16" x2="429.87" y2="83.78" stroke="#1f77b4" stroke-width="2.4" stroke-linecap="butt"/>
<line x1="426.57" y1="58.16" x2="433.17" y2="58.16" stroke="#1f77b4" stroke-width="2.3" stroke-linecap="butt"/>
<line x1="426.57" y1="83.78" x2="433.17" y2="83.78" stroke="#1f77b4" stroke-width="2.3" stroke-linecap="butt"/>
<line x1="473.60" y1="79.51" x2="473.60" y2="96.59" stroke="#1f77b4" stroke-width="2.4" stroke-linecap="butt"/>
<line x1="470.30" y1="79.51" x2="476.90" y2="79.51" stroke="#1f77b4" stroke-width="2.3" stroke-linecap="butt"/>
<line x1="470.30" y1="96.59" x2="476.90" y2="96.59" stroke="#1f77b4" stroke-width="2.3" stroke-linecap="butt"/>
<line x1="517.33" y1="79.51" x2="517.33" y2="96.59" stroke="#1f77b4" stroke-width="2.4" stroke-linecap="butt"/>
<line x1="514.03" y1="79.51" x2="520.63" y2="79.51" stroke="#1f77b4" stroke-width="2.3" stroke-linecap="butt"/>
<line x1="514.03" y1="96.59" x2="520.63" y2="96.59" stroke="#1f77b4" stroke-width="2.3" stroke-linecap="butt"/>
<line x1="561.07" y1="70.97" x2="561.07" y2="139.29" stroke="#1f77b4" stroke-width="2.4" stroke-linecap="butt"/>
<line x1="557.77" y1="70.97" x2="564.37" y2="70.97" stroke="#1f77b4" stroke-width="2.3" stroke-linecap="butt"/>
<line x1="557.77" y1="139.29" x2="564.37" y2="139.29" stroke="#1f77b4" stroke-width="2.3" stroke-linecap="butt"/>
<line x1="604.80" y1="76.52" x2="604.80" y2="91.04" stroke="#1f77b4" stroke-width="2.4" stroke-linecap="butt"/>
<line x1="601.50" y1="76.52" x2="608.10" y2="76.52" stroke="#1f77b4" stroke-width="2.3" stroke-linecap="butt"/>
<line x1="601.50" y1="91.04" x2="608.10" y2="91.04" stroke="#1f77b4" stroke-width="2.3" stroke-linecap="butt"/>
<line x1="648.53" y1="75.24" x2="648.53" y2="100.86" stroke="#fb5a3a" stroke-width="2.4" stroke-linecap="butt"/>
<line x1="645.23" y1="75.24" x2="651.83" y2="75.24" stroke="#fb5a3a" stroke-width="2.3" stroke-linecap="butt"/>
<line x1="645.23" y1="100.86" x2="651.83" y2="100.86" stroke="#fb5a3a" stroke-width="2.3" stroke-linecap="butt"/>
<circle cx="429.87" cy="70.97" r="5.6" fill="#1f77b4"/>
<circle cx="473.60" cy="88.05" r="5.6" fill="#1f77b4"/>
<circle cx="517.33" cy="88.05" r="5.6" fill="#1f77b4"/>
<circle cx="561.07" cy="105.13" r="5.6" fill="#1f77b4"/>
<circle cx="604.80" cy="83.78" r="5.6" fill="#1f77b4"/>
<rect x="642.93" y="82.45" width="11.20" height="11.20" fill="#fb5a3a" stroke="none" stroke-width="0" rx="1.8"/>
<circle cx="561.07" cy="70.97" r="4.1" fill="#fff" stroke="#6aaed6" stroke-width="2"/>
<circle cx="561.07" cy="169.18" r="4.1" fill="#fff" stroke="#6aaed6" stroke-width="2"/>
<rect x="408" y="24" width="262.4" height="180" fill="none" stroke="#000" stroke-width="2.2"/>
<text x="480.00" y="14.50" font-size="16.5" textLength="156.00" lengthAdjust="spacingAndGlyphs">Cr-<tspan font-style="italic">A</tspan> distance (EXAFS)</text>
<text transform="translate(367.7,116.75) rotate(-90)" font-size="16.5" text-anchor="middle" textLength="117.5" lengthAdjust="spacingAndGlyphs">Bond Length (Å)</text>
<text x="438.70" y="40.40" font-size="15" textLength="131.80" lengthAdjust="spacingAndGlyphs">Parent Compounds</text>
<text x="612.80" y="53.70" font-size="14.5" textLength="53.10" lengthAdjust="spacingAndGlyphs"><tspan font-style="italic">A</tspan><tspan font-size="10.15" dy="-5.22">5</tspan><tspan dy="5.22">Cr</tspan><tspan font-size="10.15" dy="3.19">2</tspan><tspan dy="-3.19">O</tspan><tspan font-size="10.15" dy="3.19">4</tspan></text>
<text x="359.60" y="16.80" font-size="20" font-weight="bold">d</text>
<text transform="translate(443.97,214.00) rotate(-30) scale(0.93,1)" font-size="15.8" text-anchor="end">MnCr<tspan font-size="11.06" dy="3.48">2</tspan><tspan dy="-3.48">O</tspan><tspan font-size="11.06" dy="3.48">4</tspan></text>
<text transform="translate(487.70,214.00) rotate(-30) scale(0.93,1)" font-size="15.8" text-anchor="end">CoCr<tspan font-size="11.06" dy="3.48">2</tspan><tspan dy="-3.48">O</tspan><tspan font-size="11.06" dy="3.48">4</tspan></text>
<text transform="translate(531.43,214.00) rotate(-30) scale(0.93,1)" font-size="15.8" text-anchor="end">NiCr<tspan font-size="11.06" dy="3.48">2</tspan><tspan dy="-3.48">O</tspan><tspan font-size="11.06" dy="3.48">4</tspan></text>
<text transform="translate(575.17,214.00) rotate(-30) scale(0.93,1)" font-size="15.8" text-anchor="end">CuCr<tspan font-size="11.06" dy="3.48">2</tspan><tspan dy="-3.48">O</tspan><tspan font-size="11.06" dy="3.48">4</tspan></text>
<text transform="translate(618.90,214.00) rotate(-30) scale(0.93,1)" font-size="15.8" text-anchor="end">ZnCr<tspan font-size="11.06" dy="3.48">2</tspan><tspan dy="-3.48">O</tspan><tspan font-size="11.06" dy="3.48">4</tspan></text>
<text transform="translate(662.63,214.00) rotate(-30) scale(0.93,1)" font-size="15.8" text-anchor="end">A<tspan font-size="9.80" dy="-5.69">5</tspan><tspan dy="5.69">Cr</tspan><tspan font-size="11.06" dy="3.48">2</tspan><tspan dy="-3.48">O</tspan><tspan font-size="11.06" dy="3.48">4</tspan></text>
<rect x="71.60" y="290.00" width="201.60" height="180.90" fill="#f2f7fa" stroke="none" stroke-width="0" rx="0"/>
<rect x="273.20" y="290.00" width="51.00" height="180.90" fill="#fee8e1" stroke="none" stroke-width="0" rx="0"/>
<line x1="71.60" y1="460.90" x2="79.60" y2="460.90" stroke="#000" stroke-width="2" stroke-linecap="butt"/>
<line x1="324.20" y1="460.90" x2="316.20" y2="460.90" stroke="#000" stroke-width="2" stroke-linecap="butt"/>
<text x="66.40" y="467.50" font-size="15.6" text-anchor="end">1.85</text>
<line x1="71.60" y1="407.40" x2="79.60" y2="407.40" stroke="#000" stroke-width="2" stroke-linecap="butt"/>
<line x1="324.20" y1="407.40" x2="316.20" y2="407.40" stroke="#000" stroke-width="2" stroke-linecap="butt"/>
<text x="66.40" y="414.00" font-size="15.6" text-anchor="end">1.90</text>
<line x1="71.60" y1="353.90" x2="79.60" y2="353.90" stroke="#000" stroke-width="2" stroke-linecap="butt"/>
<line x1="324.20" y1="353.90" x2="316.20" y2="353.90" stroke="#000" stroke-width="2" stroke-linecap="butt"/>
<text x="66.40" y="360.50" font-size="15.6" text-anchor="end">1.95</text>
<line x1="71.60" y1="300.40" x2="79.60" y2="300.40" stroke="#000" stroke-width="2" stroke-linecap="butt"/>
<line x1="324.20" y1="300.40" x2="316.20" y2="300.40" stroke="#000" stroke-width="2" stroke-linecap="butt"/>
<text x="66.40" y="307.00" font-size="15.6" text-anchor="end">2.00</text>
<line x1="71.60" y1="471.60" x2="76.10" y2="471.60" stroke="#000" stroke-width="2" stroke-linecap="butt"/>
<line x1="324.20" y1="471.60" x2="319.70" y2="471.60" stroke="#000" stroke-width="2" stroke-linecap="butt"/>
<line x1="71.60" y1="450.20" x2="76.10" y2="450.20" stroke="#000" stroke-width="2" stroke-linecap="butt"/>
<line x1="324.20" y1="450.20" x2="319.70" y2="450.20" stroke="#000" stroke-width="2" stroke-linecap="butt"/>
<line x1="71.60" y1="439.50" x2="76.10" y2="439.50" stroke="#000" stroke-width="2" stroke-linecap="butt"/>
<line x1="324.20" y1="439.50" x2="319.70" y2="439.50" stroke="#000" stroke-width="2" stroke-linecap="butt"/>
<line x1="71.60" y1="428.80" x2="76.10" y2="428.80" stroke="#000" stroke-width="2" stroke-linecap="butt"/>
<line x1="324.20" y1="428.80" x2="319.70" y2="428.80" stroke="#000" stroke-width="2" stroke-linecap="butt"/>
<line x1="71.60" y1="418.10" x2="76.10" y2="418.10" stroke="#000" stroke-width="2" stroke-linecap="butt"/>
<line x1="324.20" y1="418.10" x2="319.70" y2="418.10" stroke="#000" stroke-width="2" stroke-linecap="butt"/>
<line x1="71.60" y1="396.70" x2="76.10" y2="396.70" stroke="#000" stroke-width="2" stroke-linecap="butt"/>
<line x1="324.20" y1="396.70" x2="319.70" y2="396.70" stroke="#000" stroke-width="2" stroke-linecap="butt"/>
<line x1="71.60" y1="386.00" x2="76.10" y2="386.00" stroke="#000" stroke-width="2" stroke-linecap="butt"/>
<line x1="324.20" y1="386.00" x2="319.70" y2="386.00" stroke="#000" stroke-width="2" stroke-linecap="butt"/>
<line x1="71.60" y1="375.30" x2="76.10" y2="375.30" stroke="#000" stroke-width="2" stroke-linecap="butt"/>
<line x1="324.20" y1="375.30" x2="319.70" y2="375.30" stroke="#000" stroke-width="2" stroke-linecap="butt"/>
<line x1="71.60" y1="364.60" x2="76.10" y2="364.60" stroke="#000" stroke-width="2" stroke-linecap="butt"/>
<line x1="324.20" y1="364.60" x2="319.70" y2="364.60" stroke="#000" stroke-width="2" stroke-linecap="butt"/>
<line x1="71.60" y1="343.20" x2="76.10" y2="343.20" stroke="#000" stroke-width="2" stroke-linecap="butt"/>
<line x1="324.20" y1="343.20" x2="319.70" y2="343.20" stroke="#000" stroke-width="2" stroke-linecap="butt"/>
<line x1="71.60" y1="332.50" x2="76.10" y2="332.50" stroke="#000" stroke-width="2" stroke-linecap="butt"/>
<line x1="324.20" y1="332.50" x2="319.70" y2="332.50" stroke="#000" stroke-width="2" stroke-linecap="butt"/>
<line x1="71.60" y1="321.80" x2="76.10" y2="321.80" stroke="#000" stroke-width="2" stroke-linecap="butt"/>
<line x1="324.20" y1="321.80" x2="319.70" y2="321.80" stroke="#000" stroke-width="2" stroke-linecap="butt"/>
<line x1="71.60" y1="311.10" x2="76.10" y2="311.10" stroke="#000" stroke-width="2" stroke-linecap="butt"/>
<line x1="324.20" y1="311.10" x2="319.70" y2="311.10" stroke="#000" stroke-width="2" stroke-linecap="butt"/>
<line x1="71.60" y1="289.70" x2="76.10" y2="289.70" stroke="#000" stroke-width="2" stroke-linecap="butt"/>
<line x1="324.20" y1="289.70" x2="319.70" y2="289.70" stroke="#000" stroke-width="2" stroke-linecap="butt"/>
<line x1="92.65" y1="470.90" x2="92.65" y2="462.90" stroke="#000" stroke-width="2" stroke-linecap="butt"/>
<line x1="134.75" y1="470.90" x2="134.75" y2="462.90" stroke="#000" stroke-width="2" stroke-linecap="butt"/>
<line x1="176.85" y1="470.90" x2="176.85" y2="462.90" stroke="#000" stroke-width="2" stroke-linecap="butt"/>
<line x1="218.95" y1="470.90" x2="218.95" y2="462.90" stroke="#000" stroke-width="2" stroke-linecap="butt"/>
<line x1="261.05" y1="470.90" x2="261.05" y2="462.90" stroke="#000" stroke-width="2" stroke-linecap="butt"/>
<line x1="303.15" y1="470.90" x2="303.15" y2="462.90" stroke="#000" stroke-width="2" stroke-linecap="butt"/>
<line x1="218.95" y1="302.54" x2="218.95" y2="321.80" stroke="#6aaed6" stroke-width="2.4" stroke-linecap="butt"/>
<line x1="215.65" y1="302.54" x2="222.25" y2="302.54" stroke="#6aaed6" stroke-width="2.3" stroke-linecap="butt"/>
<line x1="215.65" y1="321.80" x2="222.25" y2="321.80" stroke="#6aaed6" stroke-width="2.3" stroke-linecap="butt"/>
<line x1="218.95" y1="396.70" x2="218.95" y2="460.90" stroke="#6aaed6" stroke-width="2.4" stroke-linecap="butt"/>
<line x1="215.65" y1="396.70" x2="222.25" y2="396.70" stroke="#6aaed6" stroke-width="2.3" stroke-linecap="butt"/>
<line x1="215.65" y1="460.90" x2="222.25" y2="460.90" stroke="#6aaed6" stroke-width="2.3" stroke-linecap="butt"/>
<line x1="92.65" y1="311.10" x2="92.65" y2="332.50" stroke="#1f77b4" stroke-width="2.4" stroke-linecap="butt"/>
<line x1="89.35" y1="311.10" x2="95.95" y2="311.10" stroke="#1f77b4" stroke-width="2.3" stroke-linecap="butt"/>
<line x1="89.35" y1="332.50" x2="95.95" y2="332.50" stroke="#1f77b4" stroke-width="2.3" stroke-linecap="butt"/>
<line x1="134.75" y1="321.80" x2="134.75" y2="343.20" stroke="#1f77b4" stroke-width="2.4" stroke-linecap="butt"/>
<line x1="131.45" y1="321.80" x2="138.05" y2="321.80" stroke="#1f77b4" stroke-width="2.3" stroke-linecap="butt"/>
<line x1="131.45" y1="343.20" x2="138.05" y2="343.20" stroke="#1f77b4" stroke-width="2.3" stroke-linecap="butt"/>
<line x1="176.85" y1="321.80" x2="176.85" y2="343.20" stroke="#1f77b4" stroke-width="2.4" stroke-linecap="butt"/>
<line x1="173.55" y1="321.80" x2="180.15" y2="321.80" stroke="#1f77b4" stroke-width="2.3" stroke-linecap="butt"/>
<line x1="173.55" y1="343.20" x2="180.15" y2="343.20" stroke="#1f77b4" stroke-width="2.3" stroke-linecap="butt"/>
<line x1="218.95" y1="343.20" x2="218.95" y2="407.40" stroke="#1f77b4" stroke-width="2.4" stroke-linecap="butt"/>
<line x1="215.65" y1="343.20" x2="222.25" y2="343.20" stroke="#1f77b4" stroke-width="2.3" stroke-linecap="butt"/>
<line x1="215.65" y1="407.40" x2="222.25" y2="407.40" stroke="#1f77b4" stroke-width="2.3" stroke-linecap="butt"/>
<line x1="261.05" y1="325.01" x2="261.05" y2="342.13" stroke="#1f77b4" stroke-width="2.4" stroke-linecap="butt"/>
<line x1="257.75" y1="325.01" x2="264.35" y2="325.01" stroke="#1f77b4" stroke-width="2.3" stroke-linecap="butt"/>
<line x1="257.75" y1="342.13" x2="264.35" y2="342.13" stroke="#1f77b4" stroke-width="2.3" stroke-linecap="butt"/>
<line x1="303.15" y1="321.80" x2="303.15" y2="343.20" stroke="#fb5a3a" stroke-width="2.4" stroke-linecap="butt"/>
<line x1="299.85" y1="321.80" x2="306.45" y2="321.80" stroke="#fb5a3a" stroke-width="2.3" stroke-linecap="butt"/>
<line x1="299.85" y1="343.20" x2="306.45" y2="343.20" stroke="#fb5a3a" stroke-width="2.3" stroke-linecap="butt"/>
<circle cx="92.65" cy="321.80" r="5.6" fill="#1f77b4"/>
<circle cx="134.75" cy="332.50" r="5.6" fill="#1f77b4"/>
<circle cx="176.85" cy="332.50" r="5.6" fill="#1f77b4"/>
<circle cx="218.95" cy="375.30" r="5.6" fill="#1f77b4"/>
<circle cx="261.05" cy="333.57" r="5.6" fill="#1f77b4"/>
<rect x="297.55" y="326.90" width="11.20" height="11.20" fill="#fb5a3a" stroke="none" stroke-width="0" rx="1.8"/>
<circle cx="218.95" cy="312.17" r="4.1" fill="#fff" stroke="#6aaed6" stroke-width="2"/>
<circle cx="218.95" cy="428.80" r="4.1" fill="#fff" stroke="#6aaed6" stroke-width="2"/>
<rect x="71.6" y="290" width="252.6" height="180.89999999999998" fill="none" stroke="#000" stroke-width="2.2"/>
<text x="123.30" y="286.00" font-size="16.5" textLength="159.20" lengthAdjust="spacingAndGlyphs">Cr-O distance (EXAFS)</text>
<text transform="translate(23.9,380.0) rotate(-90)" font-size="16.5" text-anchor="middle" textLength="118.8" lengthAdjust="spacingAndGlyphs">Bond Length (Å)</text>
<text x="80.40" y="308.60" font-size="15" textLength="131.60" lengthAdjust="spacingAndGlyphs">Parent Compounds</text>
<text x="268.50" y="313.10" font-size="14.5" textLength="51.50" lengthAdjust="spacingAndGlyphs"><tspan font-style="italic">A</tspan><tspan font-size="10.15" dy="-5.22">5</tspan><tspan dy="5.22">Cr</tspan><tspan font-size="10.15" dy="3.19">2</tspan><tspan dy="-3.19">O</tspan><tspan font-size="10.15" dy="3.19">4</tspan></text>
<text x="8.50" y="296.30" font-size="20" font-weight="bold">b</text>
<text transform="translate(103.45,483.50) rotate(-30) scale(0.93,1)" font-size="15.8" text-anchor="end">MnCr<tspan font-size="11.06" dy="3.48">2</tspan><tspan dy="-3.48">O</tspan><tspan font-size="11.06" dy="3.48">4</tspan></text>
<text transform="translate(145.55,483.50) rotate(-30) scale(0.93,1)" font-size="15.8" text-anchor="end">CoCr<tspan font-size="11.06" dy="3.48">2</tspan><tspan dy="-3.48">O</tspan><tspan font-size="11.06" dy="3.48">4</tspan></text>
<text transform="translate(187.65,483.50) rotate(-30) scale(0.93,1)" font-size="15.8" text-anchor="end">NiCr<tspan font-size="11.06" dy="3.48">2</tspan><tspan dy="-3.48">O</tspan><tspan font-size="11.06" dy="3.48">4</tspan></text>
<text transform="translate(229.75,483.50) rotate(-30) scale(0.93,1)" font-size="15.8" text-anchor="end">CuCr<tspan font-size="11.06" dy="3.48">2</tspan><tspan dy="-3.48">O</tspan><tspan font-size="11.06" dy="3.48">4</tspan></text>
<text transform="translate(271.85,483.50) rotate(-30) scale(0.93,1)" font-size="15.8" text-anchor="end">ZnCr<tspan font-size="11.06" dy="3.48">2</tspan><tspan dy="-3.48">O</tspan><tspan font-size="11.06" dy="3.48">4</tspan></text>
<text transform="translate(313.95,483.50) rotate(-30) scale(0.93,1)" font-size="15.8" text-anchor="end">A<tspan font-size="9.80" dy="-5.69">5</tspan><tspan dy="5.69">Cr</tspan><tspan font-size="11.06" dy="3.48">2</tspan><tspan dy="-3.48">O</tspan><tspan font-size="11.06" dy="3.48">4</tspan></text>
<rect x="70.20" y="555.20" width="200.90" height="179.60" fill="#f2f7fa" stroke="none" stroke-width="0" rx="0"/>
<rect x="271.10" y="555.20" width="55.70" height="179.60" fill="#fee8e1" stroke="none" stroke-width="0" rx="0"/>
<line x1="70.20" y1="717.10" x2="78.20" y2="717.10" stroke="#000" stroke-width="2" stroke-linecap="butt"/>
<line x1="326.80" y1="717.10" x2="318.80" y2="717.10" stroke="#000" stroke-width="2" stroke-linecap="butt"/>
<text x="65.00" y="723.70" font-size="15.6" text-anchor="end">2.90</text>
<line x1="70.20" y1="672.10" x2="78.20" y2="672.10" stroke="#000" stroke-width="2" stroke-linecap="butt"/>
<line x1="326.80" y1="672.10" x2="318.80" y2="672.10" stroke="#000" stroke-width="2" stroke-linecap="butt"/>
<text x="65.00" y="678.70" font-size="15.6" text-anchor="end">2.95</text>
<line x1="70.20" y1="627.10" x2="78.20" y2="627.10" stroke="#000" stroke-width="2" stroke-linecap="butt"/>
<line x1="326.80" y1="627.10" x2="318.80" y2="627.10" stroke="#000" stroke-width="2" stroke-linecap="butt"/>
<text x="65.00" y="633.70" font-size="15.6" text-anchor="end">3.00</text>
<line x1="70.20" y1="582.10" x2="78.20" y2="582.10" stroke="#000" stroke-width="2" stroke-linecap="butt"/>
<line x1="326.80" y1="582.10" x2="318.80" y2="582.10" stroke="#000" stroke-width="2" stroke-linecap="butt"/>
<text x="65.00" y="588.70" font-size="15.6" text-anchor="end">3.05</text>
<line x1="70.20" y1="735.10" x2="74.70" y2="735.10" stroke="#000" stroke-width="2" stroke-linecap="butt"/>
<line x1="326.80" y1="735.10" x2="322.30" y2="735.10" stroke="#000" stroke-width="2" stroke-linecap="butt"/>
<line x1="70.20" y1="726.10" x2="74.70" y2="726.10" stroke="#000" stroke-width="2" stroke-linecap="butt"/>
<line x1="326.80" y1="726.10" x2="322.30" y2="726.10" stroke="#000" stroke-width="2" stroke-linecap="butt"/>
<line x1="70.20" y1="708.10" x2="74.70" y2="708.10" stroke="#000" stroke-width="2" stroke-linecap="butt"/>
<line x1="326.80" y1="708.10" x2="322.30" y2="708.10" stroke="#000" stroke-width="2" stroke-linecap="butt"/>
<line x1="70.20" y1="699.10" x2="74.70" y2="699.10" stroke="#000" stroke-width="2" stroke-linecap="butt"/>
<line x1="326.80" y1="699.10" x2="322.30" y2="699.10" stroke="#000" stroke-width="2" stroke-linecap="butt"/>
<line x1="70.20" y1="690.10" x2="74.70" y2="690.10" stroke="#000" stroke-width="2" stroke-linecap="butt"/>
<line x1="326.80" y1="690.10" x2="322.30" y2="690.10" stroke="#000" stroke-width="2" stroke-linecap="butt"/>
<line x1="70.20" y1="681.10" x2="74.70" y2="681.10" stroke="#000" stroke-width="2" stroke-linecap="butt"/>
<line x1="326.80" y1="681.10" x2="322.30" y2="681.10" stroke="#000" stroke-width="2" stroke-linecap="butt"/>
<line x1="70.20" y1="663.10" x2="74.70" y2="663.10" stroke="#000" stroke-width="2" stroke-linecap="butt"/>
<line x1="326.80" y1="663.10" x2="322.30" y2="663.10" stroke="#000" stroke-width="2" stroke-linecap="butt"/>
<line x1="70.20" y1="654.10" x2="74.70" y2="654.10" stroke="#000" stroke-width="2" stroke-linecap="butt"/>
<line x1="326.80" y1="654.10" x2="322.30" y2="654.10" stroke="#000" stroke-width="2" stroke-linecap="butt"/>
<line x1="70.20" y1="645.10" x2="74.70" y2="645.10" stroke="#000" stroke-width="2" stroke-linecap="butt"/>
<line x1="326.80" y1="645.10" x2="322.30" y2="645.10" stroke="#000" stroke-width="2" stroke-linecap="butt"/>
<line x1="70.20" y1="636.10" x2="74.70" y2="636.10" stroke="#000" stroke-width="2" stroke-linecap="butt"/>
<line x1="326.80" y1="636.10" x2="322.30" y2="636.10" stroke="#000" stroke-width="2" stroke-linecap="butt"/>
<line x1="70.20" y1="618.10" x2="74.70" y2="618.10" stroke="#000" stroke-width="2" stroke-linecap="butt"/>
<line x1="326.80" y1="618.10" x2="322.30" y2="618.10" stroke="#000" stroke-width="2" stroke-linecap="butt"/>
<line x1="70.20" y1="609.10" x2="74.70" y2="609.10" stroke="#000" stroke-width="2" stroke-linecap="butt"/>
<line x1="326.80" y1="609.10" x2="322.30" y2="609.10" stroke="#000" stroke-width="2" stroke-linecap="butt"/>
<line x1="70.20" y1="600.10" x2="74.70" y2="600.10" stroke="#000" stroke-width="2" stroke-linecap="butt"/>
<line x1="326.80" y1="600.10" x2="322.30" y2="600.10" stroke="#000" stroke-width="2" stroke-linecap="butt"/>
<line x1="70.20" y1="591.10" x2="74.70" y2="591.10" stroke="#000" stroke-width="2" stroke-linecap="butt"/>
<line x1="326.80" y1="591.10" x2="322.30" y2="591.10" stroke="#000" stroke-width="2" stroke-linecap="butt"/>
<line x1="70.20" y1="573.10" x2="74.70" y2="573.10" stroke="#000" stroke-width="2" stroke-linecap="butt"/>
<line x1="326.80" y1="573.10" x2="322.30" y2="573.10" stroke="#000" stroke-width="2" stroke-linecap="butt"/>
<line x1="70.20" y1="564.10" x2="74.70" y2="564.10" stroke="#000" stroke-width="2" stroke-linecap="butt"/>
<line x1="326.80" y1="564.10" x2="322.30" y2="564.10" stroke="#000" stroke-width="2" stroke-linecap="butt"/>
<line x1="70.20" y1="555.10" x2="74.70" y2="555.10" stroke="#000" stroke-width="2" stroke-linecap="butt"/>
<line x1="326.80" y1="555.10" x2="322.30" y2="555.10" stroke="#000" stroke-width="2" stroke-linecap="butt"/>
<line x1="91.58" y1="734.80" x2="91.58" y2="726.80" stroke="#000" stroke-width="2" stroke-linecap="butt"/>
<line x1="134.35" y1="734.80" x2="134.35" y2="726.80" stroke="#000" stroke-width="2" stroke-linecap="butt"/>
<line x1="177.12" y1="734.80" x2="177.12" y2="726.80" stroke="#000" stroke-width="2" stroke-linecap="butt"/>
<line x1="219.88" y1="734.80" x2="219.88" y2="726.80" stroke="#000" stroke-width="2" stroke-linecap="butt"/>
<line x1="262.65" y1="734.80" x2="262.65" y2="726.80" stroke="#000" stroke-width="2" stroke-linecap="butt"/>
<line x1="305.42" y1="734.80" x2="305.42" y2="726.80" stroke="#000" stroke-width="2" stroke-linecap="butt"/>
<line x1="219.88" y1="567.70" x2="219.88" y2="583.90" stroke="#6aaed6" stroke-width="2.4" stroke-linecap="butt"/>
<line x1="216.58" y1="567.70" x2="223.18" y2="567.70" stroke="#6aaed6" stroke-width="2.3" stroke-linecap="butt"/>
<line x1="216.58" y1="583.90" x2="223.18" y2="583.90" stroke="#6aaed6" stroke-width="2.3" stroke-linecap="butt"/>
<line x1="219.88" y1="710.80" x2="219.88" y2="725.20" stroke="#6aaed6" stroke-width="2.4" stroke-linecap="butt"/>
<line x1="216.58" y1="710.80" x2="223.18" y2="710.80" stroke="#6aaed6" stroke-width="2.3" stroke-linecap="butt"/>
<line x1="216.58" y1="725.20" x2="223.18" y2="725.20" stroke="#6aaed6" stroke-width="2.3" stroke-linecap="butt"/>
<line x1="91.58" y1="627.10" x2="91.58" y2="645.10" stroke="#1f77b4" stroke-width="2.4" stroke-linecap="butt"/>
<line x1="88.28" y1="627.10" x2="94.88" y2="627.10" stroke="#1f77b4" stroke-width="2.3" stroke-linecap="butt"/>
<line x1="88.28" y1="645.10" x2="94.88" y2="645.10" stroke="#1f77b4" stroke-width="2.3" stroke-linecap="butt"/>
<line x1="134.35" y1="663.10" x2="134.35" y2="681.10" stroke="#1f77b4" stroke-width="2.4" stroke-linecap="butt"/>
<line x1="131.05" y1="663.10" x2="137.65" y2="663.10" stroke="#1f77b4" stroke-width="2.3" stroke-linecap="butt"/>
<line x1="131.05" y1="681.10" x2="137.65" y2="681.10" stroke="#1f77b4" stroke-width="2.3" stroke-linecap="butt"/>
<line x1="177.12" y1="654.10" x2="177.12" y2="672.10" stroke="#1f77b4" stroke-width="2.4" stroke-linecap="butt"/>
<line x1="173.82" y1="654.10" x2="180.42" y2="654.10" stroke="#1f77b4" stroke-width="2.3" stroke-linecap="butt"/>
<line x1="173.82" y1="672.10" x2="180.42" y2="672.10" stroke="#1f77b4" stroke-width="2.3" stroke-linecap="butt"/>
<line x1="219.88" y1="663.10" x2="219.88" y2="681.10" stroke="#1f77b4" stroke-width="2.4" stroke-linecap="butt"/>
<line x1="216.58" y1="663.10" x2="223.18" y2="663.10" stroke="#1f77b4" stroke-width="2.3" stroke-linecap="butt"/>
<line x1="216.58" y1="681.10" x2="223.18" y2="681.10" stroke="#1f77b4" stroke-width="2.3" stroke-linecap="butt"/>
<line x1="262.65" y1="664.36" x2="262.65" y2="676.24" stroke="#1f77b4" stroke-width="2.4" stroke-linecap="butt"/>
<line x1="259.35" y1="664.36" x2="265.95" y2="664.36" stroke="#1f77b4" stroke-width="2.3" stroke-linecap="butt"/>
<line x1="259.35" y1="676.24" x2="265.95" y2="676.24" stroke="#1f77b4" stroke-width="2.3" stroke-linecap="butt"/>
<line x1="305.42" y1="663.10" x2="305.42" y2="681.10" stroke="#fb5a3a" stroke-width="2.4" stroke-linecap="butt"/>
<line x1="302.12" y1="663.10" x2="308.72" y2="663.10" stroke="#fb5a3a" stroke-width="2.3" stroke-linecap="butt"/>
<line x1="302.12" y1="681.10" x2="308.72" y2="681.10" stroke="#fb5a3a" stroke-width="2.3" stroke-linecap="butt"/>
<circle cx="91.58" cy="636.10" r="5.6" fill="#1f77b4"/>
<circle cx="134.35" cy="672.10" r="5.6" fill="#1f77b4"/>
<circle cx="177.12" cy="663.10" r="5.6" fill="#1f77b4"/>
<circle cx="219.88" cy="672.10" r="5.6" fill="#1f77b4"/>
<circle cx="262.65" cy="670.30" r="5.6" fill="#1f77b4"/>
<rect x="299.82" y="666.50" width="11.20" height="11.20" fill="#fb5a3a" stroke="none" stroke-width="0" rx="1.8"/>
<circle cx="219.88" cy="575.80" r="4.1" fill="#fff" stroke="#6aaed6" stroke-width="2"/>
<circle cx="219.88" cy="718.00" r="4.1" fill="#fff" stroke="#6aaed6" stroke-width="2"/>
<rect x="70.2" y="555.2" width="256.6" height="179.5999999999999" fill="none" stroke="#000" stroke-width="2.2"/>
<text x="123.30" y="549.20" font-size="16.5" textLength="164.20" lengthAdjust="spacingAndGlyphs">Cr-Cr distance (EXAFS)</text>
<text transform="translate(23.9,648.85) rotate(-90)" font-size="16.5" text-anchor="middle" textLength="118.7" lengthAdjust="spacingAndGlyphs">Bond Length (Å)</text>
<text x="79.60" y="572.30" font-size="15" textLength="131.90" lengthAdjust="spacingAndGlyphs">Parent Compounds</text>
<text x="269.30" y="576.10" font-size="14.5" textLength="52.20" lengthAdjust="spacingAndGlyphs"><tspan font-style="italic">A</tspan><tspan font-size="10.15" dy="-5.22">5</tspan><tspan dy="5.22">Cr</tspan><tspan font-size="10.15" dy="3.19">2</tspan><tspan dy="-3.19">O</tspan><tspan font-size="10.15" dy="3.19">4</tspan></text>
<text x="10.50" y="559.20" font-size="20" font-weight="bold">c</text>
<text transform="translate(108.08,747.60) rotate(-30) scale(0.93,1)" font-size="15.8" text-anchor="end">MnCr<tspan font-size="11.06" dy="3.48">2</tspan><tspan dy="-3.48">O</tspan><tspan font-size="11.06" dy="3.48">4</tspan></text>
<text transform="translate(150.85,747.60) rotate(-30) scale(0.93,1)" font-size="15.8" text-anchor="end">CoCr<tspan font-size="11.06" dy="3.48">2</tspan><tspan dy="-3.48">O</tspan><tspan font-size="11.06" dy="3.48">4</tspan></text>
<text transform="translate(193.62,747.60) rotate(-30) scale(0.93,1)" font-size="15.8" text-anchor="end">NiCr<tspan font-size="11.06" dy="3.48">2</tspan><tspan dy="-3.48">O</tspan><tspan font-size="11.06" dy="3.48">4</tspan></text>
<text transform="translate(236.38,747.60) rotate(-30) scale(0.93,1)" font-size="15.8" text-anchor="end">CuCr<tspan font-size="11.06" dy="3.48">2</tspan><tspan dy="-3.48">O</tspan><tspan font-size="11.06" dy="3.48">4</tspan></text>
<text transform="translate(279.15,747.60) rotate(-30) scale(0.93,1)" font-size="15.8" text-anchor="end">ZnCr<tspan font-size="11.06" dy="3.48">2</tspan><tspan dy="-3.48">O</tspan><tspan font-size="11.06" dy="3.48">4</tspan></text>
<text transform="translate(321.92,747.60) rotate(-30) scale(0.93,1)" font-size="15.8" text-anchor="end">A<tspan font-size="9.80" dy="-5.69">5</tspan><tspan dy="5.69">Cr</tspan><tspan font-size="11.06" dy="3.48">2</tspan><tspan dy="-3.48">O</tspan><tspan font-size="11.06" dy="3.48">4</tspan></text>
<line x1="427.60" y1="484.10" x2="427.60" y2="475.10" stroke="#000" stroke-width="2" stroke-linecap="butt"/>
<line x1="427.60" y1="273.00" x2="427.60" y2="281.00" stroke="#000" stroke-width="2" stroke-linecap="butt"/>
<line x1="488.70" y1="484.10" x2="488.70" y2="475.10" stroke="#000" stroke-width="2" stroke-linecap="butt"/>
<line x1="488.70" y1="273.00" x2="488.70" y2="281.00" stroke="#000" stroke-width="2" stroke-linecap="butt"/>
<line x1="549.80" y1="484.10" x2="549.80" y2="475.10" stroke="#000" stroke-width="2" stroke-linecap="butt"/>
<line x1="549.80" y1="273.00" x2="549.80" y2="281.00" stroke="#000" stroke-width="2" stroke-linecap="butt"/>
<line x1="610.90" y1="484.10" x2="610.90" y2="475.10" stroke="#000" stroke-width="2" stroke-linecap="butt"/>
<line x1="610.90" y1="273.00" x2="610.90" y2="281.00" stroke="#000" stroke-width="2" stroke-linecap="butt"/>
<line x1="672.00" y1="484.10" x2="672.00" y2="475.10" stroke="#000" stroke-width="2" stroke-linecap="butt"/>
<line x1="672.00" y1="273.00" x2="672.00" y2="281.00" stroke="#000" stroke-width="2" stroke-linecap="butt"/>
<line x1="458.15" y1="484.10" x2="458.15" y2="479.60" stroke="#000" stroke-width="2" stroke-linecap="butt"/>
<line x1="458.15" y1="273.00" x2="458.15" y2="278.00" stroke="#000" stroke-width="2" stroke-linecap="butt"/>
<line x1="519.25" y1="484.10" x2="519.25" y2="479.60" stroke="#000" stroke-width="2" stroke-linecap="butt"/>
<line x1="519.25" y1="273.00" x2="519.25" y2="278.00" stroke="#000" stroke-width="2" stroke-linecap="butt"/>
<line x1="580.35" y1="484.10" x2="580.35" y2="479.60" stroke="#000" stroke-width="2" stroke-linecap="butt"/>
<line x1="580.35" y1="273.00" x2="580.35" y2="278.00" stroke="#000" stroke-width="2" stroke-linecap="butt"/>
<line x1="641.45" y1="484.10" x2="641.45" y2="479.60" stroke="#000" stroke-width="2" stroke-linecap="butt"/>
<line x1="641.45" y1="273.00" x2="641.45" y2="278.00" stroke="#000" stroke-width="2" stroke-linecap="butt"/>
<line x1="427.10" y1="484.10" x2="435.10" y2="484.10" stroke="#000" stroke-width="2" stroke-linecap="butt"/>
<line x1="671.60" y1="484.10" x2="663.60" y2="484.10" stroke="#000" stroke-width="2" stroke-linecap="butt"/>
<text x="421.60" y="489.00" font-size="14" text-anchor="end">0</text>
<line x1="427.10" y1="449.10" x2="435.10" y2="449.10" stroke="#000" stroke-width="2" stroke-linecap="butt"/>
<line x1="671.60" y1="449.10" x2="663.60" y2="449.10" stroke="#000" stroke-width="2" stroke-linecap="butt"/>
<text x="421.60" y="454.00" font-size="14" text-anchor="end">500</text>
<line x1="427.10" y1="414.10" x2="435.10" y2="414.10" stroke="#000" stroke-width="2" stroke-linecap="butt"/>
<line x1="671.60" y1="414.10" x2="663.60" y2="414.10" stroke="#000" stroke-width="2" stroke-linecap="butt"/>
<text x="421.60" y="419.00" font-size="14" text-anchor="end">1000</text>
<line x1="427.10" y1="379.10" x2="435.10" y2="379.10" stroke="#000" stroke-width="2" stroke-linecap="butt"/>
<line x1="671.60" y1="379.10" x2="663.60" y2="379.10" stroke="#000" stroke-width="2" stroke-linecap="butt"/>
<text x="421.60" y="384.00" font-size="14" text-anchor="end">1500</text>
<line x1="427.10" y1="344.10" x2="435.10" y2="344.10" stroke="#000" stroke-width="2" stroke-linecap="butt"/>
<line x1="671.60" y1="344.10" x2="663.60" y2="344.10" stroke="#000" stroke-width="2" stroke-linecap="butt"/>
<text x="421.60" y="349.00" font-size="14" text-anchor="end">2000</text>
<line x1="427.10" y1="309.10" x2="435.10" y2="309.10" stroke="#000" stroke-width="2" stroke-linecap="butt"/>
<line x1="671.60" y1="309.10" x2="663.60" y2="309.10" stroke="#000" stroke-width="2" stroke-linecap="butt"/>
<text x="421.60" y="314.00" font-size="14" text-anchor="end">2500</text>
<line x1="427.10" y1="274.10" x2="435.10" y2="274.10" stroke="#000" stroke-width="2" stroke-linecap="butt"/>
<line x1="671.60" y1="274.10" x2="663.60" y2="274.10" stroke="#000" stroke-width="2" stroke-linecap="butt"/>
<text x="421.60" y="279.00" font-size="14" text-anchor="end">3000</text>
<rect x="427.60" y="484.10" width="15.28" height="0.00" fill="#95bddf" stroke="#5f5f5f" stroke-width="1.3"/>
<rect x="442.88" y="484.10" width="15.27" height="0.00" fill="#95bddf" stroke="#5f5f5f" stroke-width="1.3"/>
<rect x="458.15" y="484.10" width="15.28" height="0.00" fill="#95bddf" stroke="#5f5f5f" stroke-width="1.3"/>
<rect x="473.43" y="484.10" width="15.27" height="0.00" fill="#95bddf" stroke="#5f5f5f" stroke-width="1.3"/>
<rect x="488.70" y="484.10" width="15.28" height="0.00" fill="#95bddf" stroke="#5f5f5f" stroke-width="1.3"/>
<rect x="503.98" y="484.10" width="15.28" height="0.00" fill="#95bddf" stroke="#5f5f5f" stroke-width="1.3"/>
<rect x="519.25" y="484.10" width="15.27" height="0.00" fill="#95bddf" stroke="#5f5f5f" stroke-width="1.3"/>
<rect x="534.53" y="484.10" width="15.28" height="0.00" fill="#95bddf" stroke="#5f5f5f" stroke-width="1.3"/>
<rect x="549.80" y="484.10" width="15.27" height="0.00" fill="#95bddf" stroke="#5f5f5f" stroke-width="1.3"/>
<rect x="565.08" y="480.32" width="15.27" height="3.78" fill="#95bddf" stroke="#5f5f5f" stroke-width="1.3"/>
<rect x="580.35" y="408.71" width="15.28" height="75.39" fill="#95bddf" stroke="#5f5f5f" stroke-width="1.3"/>
<rect x="595.63" y="339.41" width="15.27" height="144.69" fill="#95bddf" stroke="#5f5f5f" stroke-width="1.3"/>
<rect x="610.90" y="292.79" width="15.27" height="191.31" fill="#95bddf" stroke="#5f5f5f" stroke-width="1.3"/>
<rect x="626.17" y="380.50" width="15.28" height="103.60" fill="#95bddf" stroke="#5f5f5f" stroke-width="1.3"/>
<rect x="641.45" y="468.42" width="15.27" height="15.68" fill="#95bddf" stroke="#5f5f5f" stroke-width="1.3"/>
<rect x="656.72" y="483.05" width="15.28" height="1.05" fill="#95bddf" stroke="#5f5f5f" stroke-width="1.3"/>
<rect x="427.1" y="273" width="244.5" height="211.10000000000002" fill="none" stroke="#000" stroke-width="2"/>
<text x="427.60" y="506.10" font-size="14" text-anchor="middle">1.88</text>
<text x="488.70" y="506.10" font-size="14" text-anchor="middle">1.92</text>
<text x="549.80" y="506.10" font-size="14" text-anchor="middle">1.96</text>
<text x="610.90" y="506.10" font-size="14" text-anchor="middle">2.00</text>
<text x="672.00" y="506.10" font-size="14" text-anchor="middle">2.04</text>
<text x="364.50" y="281.00" font-size="20" font-weight="bold">e</text>
<text x="493.90" y="523.60" font-size="15.5" textLength="111.60" lengthAdjust="spacingAndGlyphs">Bond Length (Å)</text>
<text transform="translate(378.8,379) rotate(-90)" font-size="16.5" text-anchor="middle" textLength="51.6" lengthAdjust="spacingAndGlyphs">Counts</text>
<text x="446.70" y="314.00" font-size="14" textLength="91.10" lengthAdjust="spacingAndGlyphs">Cr-O distance</text>
<text x="476.50" y="331.00" font-size="14" textLength="34.70" lengthAdjust="spacingAndGlyphs">(DFT)</text>
<text x="554.20" y="323.50" font-size="15.5" textLength="52.10" lengthAdjust="spacingAndGlyphs"><tspan font-style="italic">A</tspan><tspan font-size="10.85" dy="-5.58">5</tspan><tspan dy="5.58">Cr</tspan><tspan font-size="10.85" dy="3.41">2</tspan><tspan dy="-3.41">O</tspan><tspan font-size="10.85" dy="3.41">4</tspan></text>
<line x1="467.65" y1="738.00" x2="467.65" y2="729.00" stroke="#000" stroke-width="2" stroke-linecap="butt"/>
<line x1="467.65" y1="538.20" x2="467.65" y2="546.20" stroke="#000" stroke-width="2" stroke-linecap="butt"/>
<line x1="549.15" y1="738.00" x2="549.15" y2="729.00" stroke="#000" stroke-width="2" stroke-linecap="butt"/>
<line x1="549.15" y1="538.20" x2="549.15" y2="546.20" stroke="#000" stroke-width="2" stroke-linecap="butt"/>
<line x1="630.65" y1="738.00" x2="630.65" y2="729.00" stroke="#000" stroke-width="2" stroke-linecap="butt"/>
<line x1="630.65" y1="538.20" x2="630.65" y2="546.20" stroke="#000" stroke-width="2" stroke-linecap="butt"/>
<line x1="508.40" y1="738.00" x2="508.40" y2="733.50" stroke="#000" stroke-width="2" stroke-linecap="butt"/>
<line x1="508.40" y1="538.20" x2="508.40" y2="543.20" stroke="#000" stroke-width="2" stroke-linecap="butt"/>
<line x1="589.90" y1="738.00" x2="589.90" y2="733.50" stroke="#000" stroke-width="2" stroke-linecap="butt"/>
<line x1="589.90" y1="538.20" x2="589.90" y2="543.20" stroke="#000" stroke-width="2" stroke-linecap="butt"/>
<line x1="426.90" y1="738.00" x2="434.90" y2="738.00" stroke="#000" stroke-width="2" stroke-linecap="butt"/>
<line x1="671.40" y1="738.00" x2="663.40" y2="738.00" stroke="#000" stroke-width="2" stroke-linecap="butt"/>
<text x="421.40" y="742.90" font-size="14" text-anchor="end">0</text>
<line x1="426.90" y1="688.00" x2="434.90" y2="688.00" stroke="#000" stroke-width="2" stroke-linecap="butt"/>
<line x1="671.40" y1="688.00" x2="663.40" y2="688.00" stroke="#000" stroke-width="2" stroke-linecap="butt"/>
<text x="421.40" y="692.90" font-size="14" text-anchor="end">500</text>
<line x1="426.90" y1="638.00" x2="434.90" y2="638.00" stroke="#000" stroke-width="2" stroke-linecap="butt"/>
<line x1="671.40" y1="638.00" x2="663.40" y2="638.00" stroke="#000" stroke-width="2" stroke-linecap="butt"/>
<text x="421.40" y="642.90" font-size="14" text-anchor="end">1000</text>
<line x1="426.90" y1="588.00" x2="434.90" y2="588.00" stroke="#000" stroke-width="2" stroke-linecap="butt"/>
<line x1="671.40" y1="588.00" x2="663.40" y2="588.00" stroke="#000" stroke-width="2" stroke-linecap="butt"/>
<text x="421.40" y="592.90" font-size="14" text-anchor="end">1500</text>
<line x1="426.90" y1="538.00" x2="434.90" y2="538.00" stroke="#000" stroke-width="2" stroke-linecap="butt"/>
<line x1="671.40" y1="538.00" x2="663.40" y2="538.00" stroke="#000" stroke-width="2" stroke-linecap="butt"/>
<text x="421.40" y="542.90" font-size="14" text-anchor="end">2000</text>
<rect x="447.27" y="728.20" width="20.38" height="9.80" fill="#95bddf" stroke="#5f5f5f" stroke-width="1.3"/>
<rect x="467.65" y="699.20" width="20.38" height="38.80" fill="#95bddf" stroke="#5f5f5f" stroke-width="1.3"/>
<rect x="488.02" y="593.20" width="20.38" height="144.80" fill="#95bddf" stroke="#5f5f5f" stroke-width="1.3"/>
<rect x="508.40" y="544.70" width="20.38" height="193.30" fill="#95bddf" stroke="#5f5f5f" stroke-width="1.3"/>
<rect x="528.77" y="546.10" width="20.38" height="191.90" fill="#95bddf" stroke="#5f5f5f" stroke-width="1.3"/>
<rect x="549.15" y="647.00" width="20.38" height="91.00" fill="#95bddf" stroke="#5f5f5f" stroke-width="1.3"/>
<rect x="569.52" y="679.70" width="20.38" height="58.30" fill="#95bddf" stroke="#5f5f5f" stroke-width="1.3"/>
<rect x="589.90" y="715.40" width="20.38" height="22.60" fill="#95bddf" stroke="#5f5f5f" stroke-width="1.3"/>
<rect x="610.27" y="728.70" width="20.38" height="9.30" fill="#95bddf" stroke="#5f5f5f" stroke-width="1.3"/>
<rect x="630.65" y="735.20" width="20.38" height="2.80" fill="#95bddf" stroke="#5f5f5f" stroke-width="1.3"/>
<rect x="426.9" y="538.2" width="244.5" height="199.79999999999995" fill="none" stroke="#000" stroke-width="2"/>
<text x="467.65" y="760.00" font-size="14" text-anchor="middle">2.92</text>
<text x="549.15" y="760.00" font-size="14" text-anchor="middle">2.96</text>
<text x="630.65" y="760.00" font-size="14" text-anchor="middle">3.00</text>
<text x="367.40" y="546.60" font-size="20" font-weight="bold">f</text>
<text x="502.80" y="786.00" font-size="15.5" textLength="118.00" lengthAdjust="spacingAndGlyphs">Bond Length (Å)</text>
<text transform="translate(378.8,647.6) rotate(-90)" font-size="16.5" text-anchor="middle" textLength="51.6" lengthAdjust="spacingAndGlyphs">Counts</text>
<text x="564.80" y="583.10" font-size="14" textLength="94.70" lengthAdjust="spacingAndGlyphs">Cr-Cr distance</text>
<text x="596.70" y="600.50" font-size="14" textLength="34.10" lengthAdjust="spacingAndGlyphs">(DFT)</text>
<text x="451.20" y="584.20" font-size="15.5" textLength="52.20" lengthAdjust="spacingAndGlyphs"><tspan font-style="italic">A</tspan><tspan font-size="10.85" dy="-5.58">5</tspan><tspan dy="5.58">Cr</tspan><tspan font-size="10.85" dy="3.41">2</tspan><tspan dy="-3.41">O</tspan><tspan font-size="10.85" dy="3.41">4</tspan></text>
</svg></body></html>
